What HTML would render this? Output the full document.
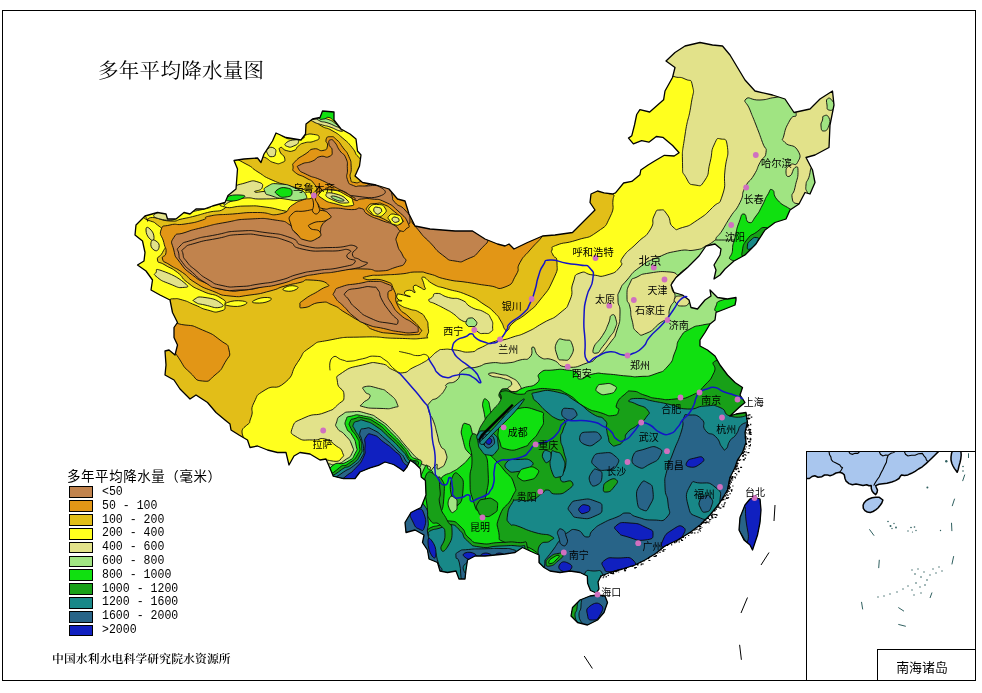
<!DOCTYPE html>
<html lang="zh"><head><meta charset="utf-8"><title>多年平均降水量图</title>
<style>
html,body{margin:0;padding:0;background:#fff}
body{width:982px;height:693px;position:relative;overflow:hidden;font-family:"Liberation Sans","Noto Sans CJK SC",sans-serif}
.frame{position:absolute;left:2px;top:10px;width:974px;height:671px;border:1px solid #000;box-sizing:border-box}
.inset{position:absolute;left:806px;top:451px;width:170px;height:230px;border:1px solid #000;box-sizing:border-box;overflow:hidden}
.inlab{position:absolute;left:877px;top:649px;width:99px;height:32px;border:1px solid #000;box-sizing:border-box;background:#fff;font-size:12.9px;line-height:36.5px;text-align:center;padding-right:9px;letter-spacing:0px}
.title{position:absolute;left:98px;top:57.5px;letter-spacing:0.3px;font-family:"Liberation Serif","Noto Serif CJK SC",serif;font-size:20.5px;line-height:26px;white-space:nowrap;color:#000}
.lgt{position:absolute;left:67px;top:468.6px;font-size:13.5px;letter-spacing:0.55px;line-height:16px;white-space:nowrap;color:#000}
.sw{position:absolute;left:69px;width:24px;height:11.8px;border:1.2px solid #000;box-sizing:border-box}
.ll{position:absolute;left:102px;font-family:"Liberation Mono","Noto Sans CJK SC",monospace;font-size:12.8px;line-height:14px;white-space:pre;color:#000;transform:scaleX(0.9025);transform-origin:0 0}
.foot{position:absolute;left:52px;top:651px;font-family:"Liberation Serif","Noto Serif CJK SC",serif;font-size:11.8px;letter-spacing:0.12px;line-height:16px;white-space:nowrap;color:#000;font-weight:600}
.ct{font-family:"Liberation Sans","Noto Sans CJK SC",sans-serif;fill:#000}
</style></head><body>
<div class="frame"></div>
<svg width="982" height="693" viewBox="0 0 982 693" style="position:absolute;left:0;top:0">
<defs><clipPath id="cn"><path d="M136.0 225.0 L145.0 216.0 L157.5 212.5 L166.0 214.0 L167.5 219.0 L176.0 219.0 L184.0 212.5 L190.0 214.0 L196.0 209.0 L204.0 209.0 L212.5 206.0 L225.0 202.5 L228.0 195.5 L236.0 189.0 L237.5 169.0 L234.0 160.5 L244.0 159.0 L257.5 158.0 L261.0 162.5 L264.0 154.0 L272.5 141.0 L276.0 133.0 L286.0 137.5 L301.0 140.0 L305.5 134.0 L306.0 124.0 L312.5 119.0 L320.0 117.5 L322.5 111.0 L334.0 112.0 L334.0 120.0 L341.0 129.0 L350.0 134.0 L356.0 139.0 L357.5 151.0 L361.0 155.0 L359.5 166.0 L355.0 176.0 L362.5 182.5 L376.0 185.0 L389.0 189.0 L397.5 199.0 L405.0 201.0 L409.0 214.0 L415.0 226.0 L430.0 229.0 L455.0 231.0 L472.5 231.0 L485.0 239.0 L497.5 244.0 L505.0 246.0 L509.0 244.0 L514.0 249.0 L527.5 242.5 L542.5 236.0 L555.0 235.0 L572.5 232.5 L579.0 226.0 L587.5 217.5 L595.0 210.0 L590.0 202.5 L591.0 194.0 L597.5 191.0 L604.0 192.8 L612.5 194.0 L615.5 192.8 L623.6 183.0 L631.8 181.4 L639.9 174.8 L640.8 170.0 L648.1 165.0 L654.6 161.0 L664.4 155.3 L674.2 156.0 L679.1 152.8 L672.6 145.5 L662.8 137.3 L656.3 136.5 L648.9 142.2 L641.6 140.6 L633.4 143.8 L628.5 138.1 L631.8 135.7 L634.5 125.0 L636.7 114.5 L639.9 109.6 L649.7 112.0 L657.9 104.7 L663.6 99.8 L665.0 91.0 L672.5 77.5 L675.0 67.5 L666.0 61.0 L675.0 52.5 L685.0 46.0 L700.0 42.5 L712.5 45.0 L722.5 46.0 L730.0 55.0 L737.5 67.5 L745.0 80.0 L755.0 91.0 L772.5 95.0 L785.0 99.0 L794.0 112.5 L810.0 109.0 L820.0 99.0 L832.5 91.0 L834.0 105.0 L830.0 125.0 L829.0 147.5 L815.0 155.0 L806.0 157.5 L812.5 170.0 L815.0 182.5 L810.0 194.0 L805.0 192.5 L799.0 204.0 L790.0 210.0 L786.0 219.0 L775.0 222.5 L765.0 230.0 L756.0 244.0 L745.0 255.0 L734.0 261.0 L725.0 269.0 L720.0 275.0 L714.0 279.0 L716.0 270.0 L714.0 265.0 L720.0 255.0 L721.0 249.0 L715.0 244.0 L706.0 246.0 L699.0 256.0 L687.5 267.5 L676.0 277.5 L671.0 285.0 L674.0 292.5 L682.5 295.0 L689.0 300.0 L691.0 307.5 L697.5 309.0 L705.0 300.0 L711.0 296.0 L710.0 290.0 L717.5 297.5 L727.5 299.0 L736.0 297.5 L736.0 300.0 L735.0 305.0 L725.0 309.0 L716.0 312.5 L715.0 320.0 L710.0 324.0 L705.0 332.5 L700.0 340.0 L700.0 346.0 L707.5 350.0 L715.0 356.0 L720.0 365.0 L727.5 375.0 L735.0 382.5 L742.5 387.5 L740.0 395.0 L745.0 402.5 L739.0 407.5 L730.0 416.0 L736.0 414.0 L746.0 412.5 L747.5 422.5 L745.0 432.5 L746.0 442.5 L742.5 452.5 L737.5 460.0 L735.0 467.5 L730.0 477.5 L727.5 490.0 L720.0 502.5 L710.0 515.0 L700.0 525.0 L690.0 532.5 L677.5 540.0 L665.0 546.0 L655.0 554.0 L645.0 560.0 L635.0 565.0 L622.5 569.0 L610.0 572.5 L601.0 576.0 L598.0 582.0 L599.0 589.0 L596.3 593.0 L590.5 590.5 L587.6 583.3 L587.3 576.0 L580.0 572.5 L570.0 571.0 L560.0 572.5 L550.0 571.0 L544.0 567.5 L539.0 562.5 L539.0 555.0 L530.0 551.0 L522.5 547.5 L515.0 552.5 L505.0 554.0 L495.0 555.0 L485.0 556.0 L475.0 556.0 L467.5 560.0 L466.0 570.0 L465.0 579.0 L459.0 579.0 L456.0 571.0 L447.5 572.5 L440.0 571.0 L437.5 562.5 L429.0 559.0 L427.5 550.0 L422.5 542.5 L424.0 535.0 L415.0 530.0 L406.0 532.5 L405.0 522.5 L411.0 512.5 L421.0 507.5 L426.0 495.0 L425.4 480.4 L421.2 477.0 L420.4 468.7 L415.3 463.7 L410.3 460.3 L407.0 467.0 L403.6 471.2 L400.3 468.7 L393.6 464.5 L385.0 462.0 L378.5 465.3 L370.0 467.9 L360.0 472.0 L355.0 478.7 L343.4 478.7 L333.3 476.2 L329.0 466.0 L326.0 459.0 L320.0 460.0 L310.0 454.0 L300.0 452.5 L294.0 456.0 L289.0 465.0 L286.0 452.5 L277.5 452.5 L267.5 450.0 L257.5 446.0 L250.0 447.5 L247.5 440.0 L239.0 435.0 L231.0 430.0 L230.0 424.0 L225.0 420.0 L216.0 412.5 L207.5 402.5 L196.0 395.0 L190.0 399.0 L180.0 389.0 L174.0 380.0 L165.0 375.0 L166.0 365.0 L165.0 351.0 L169.0 350.0 L175.0 355.0 L177.5 345.0 L174.0 337.5 L174.0 327.5 L177.5 322.5 L172.5 312.5 L170.0 300.0 L160.0 295.0 L151.0 290.0 L152.5 280.0 L146.0 271.0 L137.5 265.0 L144.0 261.0 L145.0 252.5 L142.5 241.0 L135.0 235.0Z M755.0 497.5 L760.0 499.0 L761.0 510.0 L760.0 522.5 L757.5 535.0 L752.5 550.0 L750.0 545.0 L744.0 540.0 L739.0 530.0 L740.0 517.5 L745.0 505.0 L750.0 499.0Z M597.5 595.0 L605.0 596.0 L607.5 602.5 L604.0 612.5 L597.5 620.0 L587.5 625.0 L577.5 622.5 L571.0 616.0 L572.5 607.5 L580.0 600.0 L590.0 596.0Z"/></clipPath></defs>
<g clip-path="url(#cn)" stroke="#0a0a0a" stroke-width="0.9" stroke-linejoin="round">
<rect x="100" y="20" width="760" height="640" fill="#FFFF1E" stroke="none"/>
<path d="M100.0 150.0 C100.0 150.0 420.0 100.0 420.0 100.0 C420.0 100.0 538.0 121.3 600.0 150.0 C662.0 178.7 601.7 171.3 606.0 186.0 C610.3 200.7 610.7 189.3 613.0 194.0 C615.3 198.7 614.0 192.3 613.0 200.0 C612.0 207.7 615.3 206.3 610.0 217.0 C604.7 227.7 608.0 224.3 597.0 232.0 C586.0 239.7 590.3 235.7 577.0 240.0 C563.7 244.3 565.3 241.7 557.0 245.0 C548.7 248.3 553.3 246.7 552.0 250.0 C550.7 253.3 551.3 250.7 553.0 255.0 C554.7 259.3 557.0 254.7 557.0 263.0 C557.0 271.3 558.7 267.7 553.0 280.0 C547.3 292.3 548.7 289.0 540.0 300.0 C531.3 311.0 536.0 305.3 527.0 313.0 C518.0 320.7 519.3 317.3 513.0 323.0 C506.7 328.7 510.7 327.8 508.0 330.0 C505.3 332.2 507.4 332.5 505.0 329.5 C502.6 326.5 504.3 326.6 500.8 321.0 C497.3 315.4 500.2 318.3 494.6 312.8 C489.0 307.3 493.1 310.3 484.0 304.4 C474.9 298.5 479.9 300.2 467.4 295.0 C454.9 289.8 457.6 292.2 446.4 288.7 C435.2 285.2 441.6 288.4 433.9 284.5 C426.2 280.6 426.5 277.1 423.2 277.1 C419.9 277.1 423.4 280.4 424.0 284.5 C424.6 288.6 426.5 288.6 424.9 289.4 C423.3 290.2 422.5 288.3 419.2 286.9 C415.9 285.5 416.9 284.8 415.0 285.3 C413.1 285.8 413.4 286.1 413.4 288.5 C413.4 290.9 416.3 292.0 415.0 292.6 C413.7 293.2 412.9 289.9 409.4 290.2 C405.9 290.5 404.2 291.2 404.5 293.4 C404.8 295.6 411.6 296.4 410.2 296.7 C408.8 297.0 404.8 294.9 400.4 294.3 C396.0 293.7 397.9 293.4 397.1 295.0 C396.3 296.6 396.4 297.3 398.0 299.2 C399.6 301.1 402.3 300.0 402.0 300.8 C401.7 301.6 397.4 300.0 397.1 301.6 C396.8 303.2 397.1 303.2 401.2 305.7 C405.3 308.2 403.4 306.8 409.4 309.0 C415.4 311.2 413.8 309.0 419.2 312.2 C424.6 315.4 422.7 313.8 425.7 318.7 C428.7 323.6 427.6 321.5 428.1 326.9 C428.6 332.3 429.2 331.2 427.3 335.0 C425.4 338.8 432.7 337.2 422.4 338.3 C412.1 339.4 416.1 338.7 396.3 338.3 C376.5 337.9 385.1 336.4 363.0 337.0 C340.9 337.6 347.7 336.5 330.0 340.0 C312.3 343.5 320.8 340.0 310.0 347.5 C299.2 355.0 305.8 350.8 297.5 362.5 C289.2 374.2 295.8 373.3 285.0 382.5 C274.2 391.7 275.3 383.3 265.0 390.0 C254.7 396.7 258.7 393.3 254.0 402.5 C249.3 411.7 254.3 409.2 251.0 417.5 C247.7 425.8 252.7 420.0 244.0 427.5 C235.3 435.0 259.7 449.2 225.0 440.0 C190.3 430.8 140.0 400.0 140.0 400.0 C140.0 400.0 100.0 300.0 100.0 300.0 C100.0 300.0 100.0 150.0 100.0 150.0Z" fill="#E2BE18"/>
<path d="M130.0 215.0 C137.5 201.7 138.3 216.7 147.5 220.0 C156.7 223.3 152.1 220.8 157.5 225.0 C162.9 229.2 160.8 226.7 163.8 232.5 C166.7 238.3 166.7 235.8 166.2 242.5 C165.8 249.2 165.4 246.7 162.5 252.5 C159.6 258.3 156.7 255.8 157.5 260.0 C158.3 264.2 158.3 260.8 165.0 265.0 C171.7 269.2 170.0 266.7 177.5 272.5 C185.0 278.3 179.2 276.2 187.5 282.5 C195.8 288.8 191.7 286.2 202.5 291.2 C213.3 296.2 212.5 292.9 220.0 297.5 C227.5 302.1 225.0 300.4 225.0 305.0 C225.0 309.6 225.8 309.6 220.0 311.2 C214.2 312.9 215.8 312.1 207.5 310.0 C199.2 307.9 203.3 308.3 195.0 305.0 C186.7 301.7 190.0 302.1 182.5 300.0 C175.0 297.9 178.3 298.8 172.5 298.8 C166.7 298.8 175.8 301.2 165.0 300.0 C154.2 298.8 153.3 308.3 140.0 295.0 C126.7 281.7 128.3 286.7 125.0 260.0 C121.7 233.3 122.5 228.3 130.0 215.0Z" fill="#FFFF1E"/>
<path d="M147.5 220.0 C148.3 224.2 145.0 217.2 152.5 217.5 C160.0 217.8 160.0 220.6 170.0 221.0 C180.0 221.4 174.2 220.4 182.5 218.8 C190.8 217.1 186.7 218.1 195.0 216.0 C203.3 213.9 197.5 215.2 207.5 212.5 C217.5 209.8 219.2 212.8 225.0 208.0 C230.8 203.2 236.7 199.7 225.0 198.0 C213.3 196.3 215.0 200.7 190.0 203.0 C165.0 205.3 164.2 199.3 150.0 205.0 C135.8 210.7 146.7 215.8 147.5 220.0Z" fill="#FFFF1E"/>
<path d="M230.0 158.0 C234.0 156.0 236.7 159.3 246.0 164.0 C255.3 168.7 249.3 166.7 258.0 172.0 C266.7 177.3 261.3 175.3 272.0 180.0 C282.7 184.7 279.0 182.7 290.0 186.0 C301.0 189.3 298.0 187.3 305.0 190.0 C312.0 192.7 308.7 189.7 311.0 194.0 C313.3 198.3 313.0 197.7 312.0 203.0 C311.0 208.3 312.7 206.7 308.0 210.0 C303.3 213.3 305.7 212.7 298.0 213.0 C290.3 213.3 296.0 213.0 285.0 211.0 C274.0 209.0 278.3 208.7 265.0 207.0 C251.7 205.3 258.3 206.0 245.0 206.0 C231.7 206.0 232.7 209.0 225.0 207.0 C217.3 205.0 219.7 206.0 222.0 200.0 C224.3 194.0 228.0 199.0 232.0 189.0 C236.0 179.0 234.7 180.3 234.0 170.0 C233.3 159.7 226.0 160.0 230.0 158.0Z" fill="#FFFF1E"/>
<path d="M275.5 130.0 C279.6 129.5 277.1 133.7 283.2 136.7 C289.3 139.7 287.3 138.5 293.9 139.0 C300.5 139.5 299.2 139.5 303.0 138.2 C306.8 136.9 301.7 136.5 305.3 135.2 C308.9 133.9 309.1 133.6 313.7 134.4 C318.3 135.2 319.1 135.2 319.1 137.5 C319.1 139.8 318.5 139.5 313.7 141.3 C308.9 143.1 309.7 141.3 304.6 142.8 C299.5 144.3 302.1 143.3 298.5 145.9 C294.9 148.5 298.0 149.0 293.9 150.5 C289.8 152.0 290.5 151.5 286.2 150.5 C281.9 149.5 282.9 146.9 280.9 147.4 C278.9 147.9 278.8 148.4 280.1 152.0 C281.4 155.6 284.2 154.5 284.7 158.1 C285.2 161.7 285.2 161.2 281.6 162.7 C278.0 164.2 279.1 164.2 274.0 162.7 C268.9 161.2 270.6 160.7 266.3 158.1 C262.0 155.5 261.1 159.1 261.0 155.0 C260.9 150.9 262.7 151.5 266.0 145.9 C269.3 140.3 267.8 143.5 271.0 138.2 C274.2 132.9 271.4 130.5 275.5 130.0Z" fill="#FFFF1E"/>
<path d="M306.0 119.0 C303.9 121.6 308.6 117.6 313.7 119.9 C318.8 122.2 315.3 122.4 321.4 126.0 C327.5 129.6 325.0 126.5 332.1 130.6 C339.2 134.7 336.2 132.6 342.8 138.2 C349.4 143.8 346.9 141.3 352.0 147.4 C357.1 153.5 354.1 153.1 358.1 156.6 C362.1 160.1 362.7 163.5 364.0 158.0 C365.3 152.5 368.3 151.0 362.0 140.0 C355.7 129.0 359.0 134.3 345.0 125.0 C331.0 115.7 333.0 114.0 320.0 112.0 C307.0 110.0 308.1 116.4 306.0 119.0Z" fill="#FFFF1E"/>
<path d="M227.5 302.5 C231.7 300.8 237.0 300.2 242.5 301.0 C248.0 301.8 248.2 303.3 244.0 305.0 C239.8 306.7 235.5 306.8 230.0 306.0 C224.5 305.2 223.3 304.2 227.5 302.5Z" fill="#FFFF1E"/>
<path d="M255.0 300.0 C258.8 298.2 262.8 297.2 267.5 297.5 C272.2 297.8 272.8 299.2 269.0 301.0 C265.2 302.8 260.7 303.3 256.0 303.0 C251.3 302.7 251.2 301.8 255.0 300.0Z" fill="#FFFF1E"/>
<path d="M285.0 287.5 C288.0 285.8 291.3 285.3 295.0 286.0 C298.7 286.7 299.0 287.8 296.0 289.5 C293.0 291.2 289.7 291.7 286.0 291.0 C282.3 290.3 282.0 289.2 285.0 287.5Z" fill="#FFFF1E"/>
<path d="M161.0 230.0 C163.1 224.2 162.0 227.0 170.0 225.0 C178.0 223.0 174.2 225.7 185.0 224.0 C195.8 222.3 194.2 222.7 202.5 220.0 C210.8 217.3 200.0 218.0 210.0 216.0 C220.0 214.0 216.7 215.2 232.5 214.0 C248.3 212.8 241.7 212.5 257.5 212.5 C273.3 212.5 268.3 216.5 280.0 214.0 C291.7 211.5 285.0 209.7 292.5 205.0 C300.0 200.3 295.8 202.5 302.5 200.0 C309.2 197.5 307.7 200.3 312.5 197.5 C317.3 194.7 316.4 196.4 316.8 191.7 C317.2 187.0 317.3 187.9 313.7 183.3 C310.1 178.7 312.2 181.6 306.1 178.0 C300.0 174.4 299.7 176.2 295.4 172.6 C291.1 169.0 293.1 171.1 293.1 167.3 C293.1 163.5 291.1 165.8 295.4 161.2 C299.7 156.6 300.0 157.6 306.1 153.5 C312.2 149.4 308.1 149.9 313.7 148.9 C319.3 147.9 318.3 151.5 322.9 150.5 C327.5 149.5 326.5 149.5 327.5 145.9 C328.5 142.3 325.0 142.9 326.0 139.8 C327.0 136.7 327.0 136.7 330.6 136.7 C334.2 136.7 332.6 136.2 336.7 139.8 C340.8 143.4 338.7 141.8 342.8 147.4 C346.9 153.0 346.1 150.0 348.9 156.6 C351.7 163.2 350.7 160.2 351.2 167.3 C351.7 174.4 349.1 172.9 350.4 178.0 C351.7 183.1 350.4 181.6 355.0 182.6 C359.6 183.6 357.2 181.5 364.2 181.0 C371.2 180.5 367.4 179.7 376.0 181.0 C384.6 182.3 382.3 180.3 390.0 185.0 C397.7 189.7 393.3 191.0 399.0 195.0 C404.7 199.0 402.7 190.7 407.0 197.0 C411.3 203.3 408.7 205.7 412.0 214.0 C415.3 222.3 411.0 218.7 417.0 222.0 C423.0 225.3 417.3 222.7 430.0 224.0 C442.7 225.3 440.8 225.3 455.0 226.0 C469.2 226.7 462.2 223.3 472.5 226.0 C482.8 228.7 477.7 229.3 486.0 234.0 C494.3 238.7 489.8 238.0 497.5 240.0 C505.2 242.0 503.5 238.3 509.0 240.0 C514.5 241.7 507.8 245.7 514.0 245.0 C520.2 244.3 518.0 242.3 527.5 238.0 C537.0 233.7 537.5 232.7 542.5 232.0 C547.5 231.3 546.7 230.0 542.5 236.0 C538.3 242.0 537.5 241.2 530.0 250.0 C522.5 258.8 524.7 254.2 520.0 262.5 C515.3 270.8 521.0 266.8 516.0 275.0 C511.0 283.2 514.2 283.5 505.0 287.0 C495.8 290.5 500.8 287.1 488.3 285.6 C475.8 284.1 481.4 284.5 467.4 282.4 C453.4 280.3 459.0 282.1 446.4 279.3 C433.8 276.5 439.4 276.4 429.7 274.0 C420.0 271.6 427.0 272.0 417.2 272.0 C407.4 272.0 411.6 273.0 400.4 274.0 C389.2 275.0 394.2 274.3 383.7 275.0 C373.2 275.7 374.9 274.6 369.0 276.0 C363.1 277.4 360.6 277.6 365.9 279.3 C371.2 281.0 375.6 277.4 385.0 281.0 C394.4 284.6 389.7 281.7 394.0 290.0 C398.3 298.3 393.0 297.0 398.0 306.0 C403.0 315.0 402.0 310.0 409.0 317.0 C416.0 324.0 415.2 321.8 419.0 327.0 C422.8 332.2 422.3 330.0 420.3 332.6 C418.3 335.2 421.8 334.3 413.0 334.7 C404.2 335.1 406.6 335.1 394.0 333.7 C381.4 332.3 385.0 333.7 375.3 330.5 C365.6 327.3 370.9 327.5 365.0 324.0 C359.1 320.5 364.2 323.8 357.5 320.0 C350.8 316.2 353.3 317.5 345.0 312.5 C336.7 307.5 340.8 308.3 332.5 305.0 C324.2 301.7 329.2 301.7 320.0 302.5 C310.8 303.3 311.7 306.7 305.0 307.5 C298.3 308.3 300.0 307.8 300.0 305.0 C300.0 302.2 298.3 304.0 305.0 299.0 C311.7 294.0 312.5 295.0 320.0 290.0 C327.5 285.0 330.8 287.3 327.5 284.0 C324.2 280.7 319.2 280.5 310.0 280.0 C300.8 279.5 308.3 280.5 300.0 282.5 C291.7 284.5 295.0 283.2 285.0 286.0 C275.0 288.8 281.7 288.0 270.0 291.0 C258.3 294.0 263.3 293.3 250.0 295.0 C236.7 296.7 242.5 297.3 230.0 296.0 C217.5 294.7 224.2 295.5 212.5 291.0 C200.8 286.5 205.0 288.7 195.0 282.5 C185.0 276.3 190.8 278.3 182.5 272.5 C174.2 266.7 176.7 269.5 170.0 265.0 C163.3 260.5 163.8 263.2 162.5 259.0 C161.2 254.8 165.6 258.0 166.0 252.5 C166.4 247.0 165.4 250.0 163.8 242.5 C162.1 235.0 158.9 235.8 161.0 230.0Z" fill="#E29616"/>
<path d="M172.0 327.0 C176.0 320.3 174.8 324.0 185.0 325.0 C195.2 326.0 190.8 325.0 202.5 330.0 C214.2 335.0 211.2 333.3 220.0 340.0 C228.8 346.7 227.3 342.5 229.0 350.0 C230.7 357.5 229.7 354.2 225.0 362.5 C220.3 370.8 222.5 368.8 215.0 375.0 C207.5 381.2 210.8 381.8 202.5 381.0 C194.2 380.2 197.5 379.5 190.0 372.5 C182.5 365.5 185.7 369.2 180.0 360.0 C174.3 350.8 175.7 356.0 173.0 345.0 C170.3 334.0 168.0 333.7 172.0 327.0Z" fill="#E29616"/>
<path d="M173.8 237.5 C177.5 231.7 175.4 235.8 185.0 232.5 C194.6 229.2 189.2 230.8 202.5 227.5 C215.8 224.2 209.2 225.3 225.0 222.5 C240.8 219.7 233.3 219.8 250.0 219.0 C266.7 218.2 261.7 218.0 275.0 220.0 C288.3 222.0 283.3 220.8 290.0 225.0 C296.7 229.2 290.0 228.3 295.0 232.5 C300.0 236.7 297.5 235.8 305.0 237.5 C312.5 239.2 312.5 239.2 317.5 237.5 C322.5 235.8 318.5 236.7 320.0 232.5 C321.5 228.3 319.5 229.5 322.0 225.0 C324.5 220.5 325.7 222.7 327.5 219.0 C329.3 215.3 329.3 217.7 327.5 214.0 C325.7 210.3 324.5 212.7 322.0 208.0 C319.5 203.3 317.3 203.7 320.0 200.0 C322.7 196.3 321.7 197.0 330.0 197.0 C338.3 197.0 336.7 199.2 345.0 200.0 C353.3 200.8 353.3 201.4 355.0 199.4 C356.7 197.4 350.0 197.1 350.0 194.0 C350.0 190.9 350.8 192.3 355.0 190.0 C359.2 187.7 355.7 189.5 362.7 187.2 C369.7 184.9 366.9 183.7 376.0 183.0 C385.1 182.3 384.7 181.0 390.0 185.0 C395.3 189.0 390.3 189.2 392.0 195.0 C393.7 200.8 390.7 197.5 395.0 202.5 C399.3 207.5 400.0 204.2 405.0 210.0 C410.0 215.8 410.0 214.2 410.0 220.0 C410.0 225.8 409.2 222.5 405.0 227.5 C400.8 232.5 400.0 229.2 397.5 235.0 C395.0 240.8 395.8 238.3 397.5 245.0 C399.2 251.7 400.0 249.2 402.5 255.0 C405.0 260.8 407.5 258.3 405.0 262.5 C402.5 266.7 403.3 264.7 395.0 267.5 C386.7 270.3 390.0 270.5 380.0 271.0 C370.0 271.5 378.3 269.3 365.0 269.0 C351.7 268.7 355.0 268.8 340.0 270.0 C325.0 271.2 333.3 270.5 320.0 272.5 C306.7 274.5 311.7 273.2 300.0 276.0 C288.3 278.8 296.7 277.7 285.0 281.0 C273.3 284.3 278.3 283.0 265.0 286.0 C251.7 289.0 258.3 288.7 245.0 290.0 C231.7 291.3 237.5 292.1 225.0 290.0 C212.5 287.9 218.3 288.8 207.5 283.8 C196.7 278.8 201.7 282.1 192.5 275.0 C183.3 267.9 186.2 270.8 180.0 262.5 C173.8 254.2 175.8 258.3 173.8 250.0 C171.7 241.7 170.0 243.3 173.8 237.5Z" fill="#C1834D"/>
<path d="M178.8 253.8 C177.9 248.2 175.4 250.6 180.0 246.0 C184.6 241.4 180.8 243.7 192.5 240.0 C204.2 236.3 199.2 238.0 215.0 235.0 C230.8 232.0 223.3 231.8 240.0 231.0 C256.7 230.2 248.3 230.3 265.0 232.5 C281.7 234.7 276.7 233.0 290.0 237.5 C303.3 242.0 290.8 242.7 305.0 246.0 C319.2 249.3 315.8 247.5 332.5 247.5 C349.2 247.5 348.3 243.5 355.0 246.0 C361.7 248.5 350.8 250.3 352.5 255.0 C354.2 259.7 355.8 256.7 360.0 260.0 C364.2 263.3 371.7 261.3 365.0 265.0 C358.3 268.7 355.8 268.0 340.0 271.0 C324.2 274.0 330.8 271.8 317.5 274.0 C304.2 276.2 312.5 274.2 300.0 277.5 C287.5 280.8 293.3 280.7 280.0 284.0 C266.7 287.3 273.3 285.5 260.0 287.5 C246.7 289.5 253.3 289.5 240.0 290.0 C226.7 290.5 231.7 291.5 220.0 289.0 C208.3 286.5 214.2 288.0 205.0 282.5 C195.8 277.0 200.0 279.2 192.5 272.5 C185.0 265.8 187.1 268.8 182.5 262.5 C177.9 256.2 179.6 259.2 178.8 253.8Z" fill="#C1834D"/>
<path d="M183.0 254.0 C182.2 249.3 180.2 251.7 184.5 248.0 C188.8 244.3 185.2 246.2 196.0 243.0 C206.8 239.8 202.3 241.3 217.0 238.5 C231.7 235.7 224.3 235.3 240.0 234.5 C255.7 233.7 248.3 233.8 264.0 236.0 C279.7 238.2 274.3 236.7 287.0 241.0 C299.7 245.3 287.7 245.7 302.0 249.0 C316.3 252.3 314.3 250.7 330.0 251.0 C345.7 251.3 343.3 248.0 349.0 250.0 C354.7 252.0 345.0 253.0 347.0 257.0 C349.0 261.0 357.3 258.5 355.0 262.0 C352.7 265.5 352.7 264.7 340.0 267.5 C327.3 270.3 330.7 268.3 317.0 270.5 C303.3 272.7 311.7 270.7 299.0 274.0 C286.3 277.3 292.3 277.2 279.0 280.5 C265.7 283.8 272.0 282.0 259.0 284.0 C246.0 286.0 252.3 286.0 240.0 286.5 C227.7 287.0 232.7 287.8 222.0 285.5 C211.3 283.2 216.7 284.5 208.0 279.5 C199.3 274.5 203.0 276.3 196.0 270.5 C189.0 264.7 191.3 267.5 187.0 262.0 C182.7 256.5 183.8 258.7 183.0 254.0Z" fill="#C1834D"/>
<path d="M298.5 168.8 C296.5 165.2 296.9 166.7 301.5 164.2 C306.1 161.7 306.1 163.7 312.2 161.2 C318.3 158.7 314.3 158.1 319.9 156.6 C325.5 155.1 324.9 158.6 329.0 156.6 C333.1 154.6 332.1 154.6 332.1 150.5 C332.1 146.4 329.5 147.9 329.0 144.3 C328.5 140.7 328.6 140.3 330.6 139.8 C332.6 139.3 332.1 139.2 335.1 142.8 C338.1 146.4 336.1 145.4 339.7 150.5 C343.3 155.6 343.3 152.0 345.9 158.1 C348.5 164.2 346.9 161.7 347.4 168.8 C347.9 175.9 345.4 173.9 347.4 179.5 C349.4 185.1 348.4 183.4 353.5 185.6 C358.6 187.8 353.9 185.5 362.7 186.0 C371.5 186.5 374.2 183.7 380.0 187.0 C385.8 190.3 388.3 193.0 380.0 196.0 C371.7 199.0 366.9 197.4 355.0 196.0 C343.1 194.6 351.9 195.2 344.3 191.7 C336.7 188.2 340.2 189.7 332.1 185.6 C324.0 181.5 328.1 183.1 319.9 179.5 C311.7 175.9 314.7 178.5 307.6 174.9 C300.5 171.3 300.5 172.4 298.5 168.8Z" fill="#C1834D"/>
<path d="M413.0 220.0 C416.3 217.7 416.0 222.7 430.0 225.0 C444.0 227.3 440.8 226.3 455.0 227.0 C469.2 227.7 461.8 224.0 472.5 227.0 C483.2 230.0 484.5 228.3 487.0 236.0 C489.5 243.7 486.5 242.3 480.0 250.0 C473.5 257.7 475.8 255.3 467.5 259.0 C459.2 262.7 463.3 262.3 455.0 261.0 C446.7 259.7 450.8 261.2 442.5 255.0 C434.2 248.8 437.5 250.2 430.0 242.5 C422.5 234.8 425.7 239.5 420.0 232.0 C414.3 224.5 409.7 222.3 413.0 220.0Z" fill="#C1834D"/>
<path d="M334.5 291.8 C336.6 288.0 333.8 289.4 341.8 286.6 C349.8 283.8 348.1 285.2 358.6 283.5 C369.1 281.8 364.1 281.4 373.2 281.4 C382.3 281.4 379.5 281.1 385.8 283.5 C392.1 285.9 391.3 285.2 392.0 288.7 C392.7 292.2 387.9 288.7 387.9 293.9 C387.9 299.1 387.8 297.4 392.0 304.4 C396.2 311.4 393.4 308.6 400.4 314.9 C407.4 321.2 407.1 318.3 413.0 323.2 C418.9 328.1 418.2 326.4 418.2 329.5 C418.2 332.6 419.6 331.9 413.0 332.6 C406.4 333.3 408.1 333.0 398.3 331.6 C388.5 330.2 394.2 330.9 383.7 328.5 C373.2 326.1 376.7 328.2 366.9 324.3 C357.1 320.4 362.1 322.8 354.4 316.9 C346.7 311.0 350.2 312.8 343.9 306.5 C337.6 300.2 338.7 303.0 335.6 298.1 C332.5 293.2 332.4 295.6 334.5 291.8Z" fill="#C1834D"/>
<path d="M346.0 292.0 C349.7 288.0 351.3 289.7 360.0 288.0 C368.7 286.3 366.0 286.3 372.0 287.0 C378.0 287.7 374.7 285.7 378.0 290.0 C381.3 294.3 378.0 292.7 382.0 300.0 C386.0 307.3 384.7 304.7 390.0 312.0 C395.3 319.3 398.7 318.3 398.0 322.0 C397.3 325.7 397.3 324.3 388.0 323.0 C378.7 321.7 380.3 322.7 370.0 318.0 C359.7 313.3 364.0 315.0 357.0 309.0 C350.0 303.0 352.7 305.7 349.0 300.0 C345.3 294.3 342.3 296.0 346.0 292.0Z" fill="#C1834D"/>
<path d="M292.0 214.0 C296.7 209.3 296.3 212.3 305.0 211.0 C313.7 209.7 310.0 209.0 318.0 210.0 C326.0 211.0 326.0 210.7 329.0 214.0 C332.0 217.3 332.3 217.0 327.0 220.0 C321.7 223.0 318.7 220.3 313.0 223.0 C307.3 225.7 307.7 225.0 310.0 228.0 C312.3 231.0 318.0 228.3 320.0 232.0 C322.0 235.7 321.0 236.3 316.0 239.0 C311.0 241.7 311.3 241.7 305.0 240.0 C298.7 238.3 301.7 239.0 297.0 234.0 C292.3 229.0 292.7 231.7 291.0 225.0 C289.3 218.3 287.3 218.7 292.0 214.0Z" fill="#E29616"/>
<path d="M312.0 195.0 C312.8 192.0 314.0 192.0 316.0 195.0 C318.0 198.0 317.0 198.3 318.0 204.0 C319.0 209.7 320.7 209.3 319.0 212.0 C317.3 214.7 314.8 214.7 313.0 212.0 C311.2 209.3 313.8 209.7 313.5 204.0 C313.2 198.3 311.2 198.0 312.0 195.0Z" fill="#E29616"/>
<path d="M316.0 196.0 C317.3 191.5 315.7 192.5 322.0 190.5 C328.3 188.5 326.7 189.0 335.0 190.0 C343.3 191.0 340.4 190.2 347.0 193.5 C353.6 196.8 350.0 198.2 354.8 200.0 C359.6 201.8 355.7 199.3 361.4 199.0 C367.1 198.7 364.1 198.0 372.0 199.0 C379.9 200.0 376.3 198.0 385.0 202.0 C393.7 206.0 390.3 204.0 398.0 211.0 C405.7 218.0 405.3 217.0 408.0 223.0 C410.7 229.0 408.5 226.4 406.0 229.0 C403.5 231.6 404.5 232.1 400.5 230.8 C396.5 229.5 400.5 228.6 394.0 225.1 C387.5 221.6 389.7 223.7 381.0 220.2 C372.3 216.7 374.4 218.4 367.9 214.5 C361.4 210.6 366.8 210.1 361.4 208.5 C356.0 206.9 360.3 209.8 351.6 209.6 C342.9 209.4 344.6 208.3 335.3 208.0 C326.0 207.7 329.6 210.1 323.8 208.8 C318.0 207.5 320.6 208.3 318.0 204.0 C315.4 199.7 314.7 200.5 316.0 196.0Z" fill="#E29616"/>
<path d="M367.9 206.3 C370.1 203.2 370.6 204.0 376.0 203.5 C381.4 203.0 378.5 202.4 384.2 204.7 C389.9 207.0 387.6 206.2 393.0 210.5 C398.4 214.8 397.5 213.7 400.5 217.7 C403.5 221.7 404.3 220.7 402.1 222.6 C399.9 224.5 401.0 225.0 394.0 223.4 C387.0 221.8 389.2 221.2 381.0 217.7 C372.8 214.2 373.9 216.6 369.5 212.8 C365.1 209.0 365.7 209.4 367.9 206.3Z" fill="#E2BE18"/>
<path d="M320.0 193.0 C322.7 190.0 322.3 189.3 331.0 190.0 C339.7 190.7 338.7 191.0 346.0 195.0 C353.3 199.0 352.0 198.3 353.0 202.0 C354.0 205.7 354.7 205.3 349.0 206.0 C343.3 206.7 344.7 206.3 336.0 204.0 C327.3 201.7 328.3 202.7 323.0 199.0 C317.7 195.3 317.3 196.0 320.0 193.0Z" fill="#FFFF1E"/>
<path d="M326.0 194.5 C326.7 192.3 329.0 192.2 336.0 194.0 C343.0 195.8 344.0 197.0 347.0 200.0 C350.0 203.0 349.3 202.8 345.0 203.0 C340.7 203.2 340.3 203.3 334.0 200.5 C327.7 197.7 325.3 196.7 326.0 194.5Z" fill="#E2E28A"/>
<path d="M332.0 196.0 C334.0 195.7 337.3 196.8 341.0 198.5 C344.7 200.2 345.0 200.7 343.0 201.0 C341.0 201.3 338.7 201.2 335.0 199.5 C331.3 197.8 330.0 196.3 332.0 196.0Z" fill="#A0E482"/>
<path d="M370.0 207.0 C372.3 204.5 373.0 204.2 378.0 204.5 C383.0 204.8 383.0 204.8 385.0 208.0 C387.0 211.2 386.7 211.3 384.0 214.0 C381.3 216.7 381.3 216.7 377.0 216.0 C372.7 215.3 373.3 215.0 371.0 212.0 C368.7 209.0 367.7 209.5 370.0 207.0Z" fill="#FFFF1E"/>
<path d="M374.0 208.5 C374.8 206.5 376.0 207.0 378.5 207.5 C381.0 208.0 381.0 208.2 381.5 210.0 C382.0 211.8 381.8 211.8 380.0 213.0 C378.2 214.2 378.0 215.0 376.0 213.5 C374.0 212.0 373.2 210.5 374.0 208.5Z" fill="#E2E28A"/>
<path d="M389.0 216.0 C391.0 213.8 391.7 213.5 396.0 214.5 C400.3 215.5 400.7 215.8 402.0 219.0 C403.3 222.2 402.7 222.2 400.0 224.0 C397.3 225.8 397.3 225.5 394.0 224.5 C390.7 223.5 391.7 223.8 390.0 221.0 C388.3 218.2 387.0 218.2 389.0 216.0Z" fill="#FFFF1E"/>
<path d="M392.5 218.0 C393.5 216.7 394.3 216.8 396.5 217.5 C398.7 218.2 398.8 218.5 399.0 220.0 C399.2 221.5 398.8 221.5 397.0 222.0 C395.2 222.5 395.0 222.8 393.5 221.5 C392.0 220.2 391.5 219.3 392.5 218.0Z" fill="#E2E28A"/>
<path d="M267.9 148.9 C269.9 146.9 271.5 146.7 274.0 148.2 C276.5 149.7 276.0 150.7 275.5 153.5 C275.0 156.3 275.0 156.3 272.5 156.6 C270.0 156.9 269.4 156.9 267.9 154.3 C266.4 151.7 265.9 150.9 267.9 148.9Z" fill="#E2E28A"/>
<path d="M286.2 142.8 C288.8 140.5 291.3 140.1 295.4 139.8 C299.5 139.5 299.0 140.0 298.5 142.0 C298.0 144.0 297.5 144.4 293.9 145.9 C290.3 147.4 290.3 147.6 287.7 146.6 C285.1 145.6 283.6 145.1 286.2 142.8Z" fill="#E2E28A"/>
<path d="M313.0 119.5 C316.7 119.0 317.7 118.7 325.0 120.5 C332.3 122.3 329.7 122.0 335.0 125.0 C340.3 128.0 339.3 127.5 341.0 129.5 C342.7 131.5 343.7 131.8 340.0 131.0 C336.3 130.2 335.8 129.0 330.0 127.0 C324.2 125.0 327.8 126.7 322.5 125.0 C317.2 123.3 317.2 123.8 314.0 122.0 C310.8 120.2 309.3 120.0 313.0 119.5Z" fill="#E2E28A"/>
<path d="M318.0 118.0 C320.3 117.3 321.0 117.0 327.0 119.0 C333.0 121.0 332.3 121.3 336.0 124.0 C339.7 126.7 340.7 127.3 338.0 127.0 C335.3 126.7 334.0 125.0 328.0 123.0 C322.0 121.0 323.3 122.7 320.0 121.0 C316.7 119.3 315.7 118.7 318.0 118.0Z" fill="#A0E482"/>
<path d="M320.0 112.0 C325.7 109.3 330.7 107.0 336.0 110.0 C341.3 113.0 338.3 118.5 336.0 121.0 C333.7 123.5 333.0 118.2 329.0 117.5 C325.0 116.8 327.3 118.8 324.0 119.0 C320.7 119.2 320.3 120.3 319.0 118.0 C317.7 115.7 314.3 114.7 320.0 112.0Z" fill="#10E010"/>
<path d="M232.0 190.0 C239.0 183.0 236.3 185.7 245.0 183.0 C253.7 180.3 252.3 180.3 258.0 182.0 C263.7 183.7 263.0 184.7 262.0 188.0 C261.0 191.3 252.3 190.7 255.0 192.0 C257.7 193.3 261.0 190.3 270.0 192.0 C279.0 193.7 284.7 194.7 282.0 197.0 C279.3 199.3 274.3 198.7 262.0 199.0 C249.7 199.3 255.0 197.3 245.0 198.0 C235.0 198.7 239.0 199.0 232.0 201.0 C225.0 203.0 224.0 207.7 224.0 204.0 C224.0 200.3 225.0 197.0 232.0 190.0Z" fill="#E2E28A"/>
<path d="M268.0 186.0 C273.0 183.3 271.0 183.3 280.0 184.0 C289.0 184.7 286.3 184.3 295.0 188.0 C303.7 191.7 304.3 191.0 306.0 195.0 C307.7 199.0 307.0 198.7 300.0 200.0 C293.0 201.3 294.3 200.3 285.0 199.0 C275.7 197.7 278.7 198.3 272.0 196.0 C265.3 193.7 266.3 195.3 265.0 192.0 C263.7 188.7 263.0 188.7 268.0 186.0Z" fill="#A0E482"/>
<path d="M277.0 190.0 C280.0 187.7 282.0 187.0 287.0 188.0 C292.0 189.0 292.3 190.0 292.0 193.0 C291.7 196.0 290.7 196.3 286.0 197.0 C281.3 197.7 281.0 197.3 278.0 195.0 C275.0 192.7 274.0 192.3 277.0 190.0Z" fill="#10E010"/>
<path d="M227.0 197.0 C230.3 195.0 234.7 194.7 240.0 195.0 C245.3 195.3 246.3 196.0 243.0 198.0 C239.7 200.0 235.3 201.3 230.0 201.0 C224.7 200.7 223.7 199.0 227.0 197.0Z" fill="#10E010"/>
<path d="M146.0 230.0 C146.0 226.7 147.3 226.5 150.0 229.0 C152.7 231.5 154.0 234.2 154.0 237.5 C154.0 240.8 152.7 241.5 150.0 239.0 C147.3 236.5 146.0 233.3 146.0 230.0Z" fill="#E2E28A"/>
<path d="M151.0 242.5 C151.7 239.5 153.3 239.3 156.0 241.0 C158.7 242.7 159.7 244.5 159.0 247.5 C158.3 250.5 156.7 251.7 154.0 250.0 C151.3 248.3 150.3 245.5 151.0 242.5Z" fill="#E2E28A"/>
<path d="M156.0 272.5 C157.7 270.3 153.2 267.7 162.5 271.0 C171.8 274.3 177.3 277.0 184.0 282.5 C190.7 288.0 187.2 287.0 182.5 287.5 C177.8 288.0 178.3 287.3 170.0 284.0 C161.7 280.7 162.2 281.3 157.5 277.5 C152.8 273.7 154.3 274.7 156.0 272.5Z" fill="#E2E28A"/>
<path d="M195.0 299.0 C198.0 297.3 196.7 296.3 205.0 297.5 C213.3 298.7 215.3 299.2 220.0 302.5 C224.7 305.8 224.0 306.7 219.0 307.5 C214.0 308.3 212.7 306.7 205.0 305.0 C197.3 303.3 199.3 304.5 196.0 302.5 C192.7 300.5 192.0 300.7 195.0 299.0Z" fill="#E2E28A"/>
<path d="M190.0 207.0 C195.7 204.7 197.7 204.3 205.0 204.0 C212.3 203.7 213.7 204.0 212.0 206.0 C210.3 208.0 208.0 208.3 200.0 210.0 C192.0 211.7 191.3 212.0 188.0 211.0 C184.7 210.0 184.3 209.3 190.0 207.0Z" fill="#E2E28A"/>
<path d="M155.0 214.0 C157.7 212.0 161.3 211.3 168.0 213.0 C174.7 214.7 177.7 217.0 175.0 219.0 C172.3 221.0 166.7 220.7 160.0 219.0 C153.3 217.3 152.3 216.0 155.0 214.0Z" fill="#E2E28A"/>
<path d="M672.5 76.0 C680.5 79.0 678.3 75.7 685.0 79.0 C691.7 82.3 690.5 77.3 692.5 86.0 C694.5 94.7 693.5 88.7 691.0 105.0 C688.5 121.3 687.8 115.8 685.0 135.0 C682.2 154.2 682.2 148.3 682.5 162.5 C682.8 176.7 681.8 170.0 686.0 177.5 C690.2 185.0 688.7 184.2 695.0 185.0 C701.3 185.8 700.0 187.5 705.0 180.0 C710.0 172.5 707.0 174.2 710.0 162.5 C713.0 150.8 710.3 152.8 714.0 145.0 C717.7 137.2 716.5 138.2 721.0 139.0 C725.5 139.8 726.2 137.2 727.5 147.5 C728.8 157.8 726.7 154.2 725.0 170.0 C723.3 185.8 726.7 182.5 722.5 195.0 C718.3 207.5 720.8 199.2 712.5 207.5 C704.2 215.8 707.5 213.3 697.5 220.0 C687.5 226.7 690.7 225.2 682.5 227.5 C674.3 229.8 678.0 231.2 673.0 227.0 C668.0 222.8 671.8 220.7 667.5 215.0 C663.2 209.3 664.5 209.7 660.0 210.0 C655.5 210.3 657.3 209.3 654.0 216.0 C650.7 222.7 655.7 221.0 650.0 230.0 C644.3 239.0 646.0 234.0 637.0 243.0 C628.0 252.0 628.7 249.0 623.0 257.0 C617.3 265.0 625.3 261.0 620.0 267.0 C614.7 273.0 616.0 272.3 607.0 275.0 C598.0 277.7 602.0 275.7 593.0 275.0 C584.0 274.3 586.7 270.3 580.0 273.0 C573.3 275.7 576.3 274.0 573.0 283.0 C569.7 292.0 574.3 290.0 570.0 300.0 C565.7 310.0 569.0 305.3 560.0 313.0 C551.0 320.7 554.0 316.7 543.0 323.0 C532.0 329.3 537.0 327.3 527.0 332.0 C517.0 336.7 521.0 334.3 513.0 337.0 C505.0 339.7 509.7 338.3 503.0 340.0 C496.3 341.7 500.7 339.3 493.0 342.0 C485.3 344.7 487.7 344.7 480.0 348.0 C472.3 351.3 478.3 351.3 470.0 352.0 C461.7 352.7 463.8 350.9 455.0 350.0 C446.2 349.1 449.4 348.9 443.5 349.4 C437.6 349.9 442.2 348.4 437.4 351.4 C432.6 354.4 434.0 354.8 429.2 358.5 C424.4 362.2 428.5 359.5 423.1 362.6 C417.7 365.7 419.7 364.3 412.9 367.7 C406.1 371.1 409.5 372.1 402.7 372.8 C395.9 373.5 400.1 372.8 392.6 369.7 C385.1 366.6 390.3 365.2 380.3 363.6 C370.3 362.0 375.1 362.0 362.5 365.0 C349.9 368.0 350.8 366.7 342.5 372.5 C334.2 378.3 337.0 375.0 337.5 382.5 C338.0 390.0 344.0 387.5 344.0 395.0 C344.0 402.5 343.8 399.2 337.5 405.0 C331.2 410.8 335.8 408.3 325.0 412.5 C314.2 416.7 315.8 412.5 305.0 417.5 C294.2 422.5 295.0 420.8 292.5 427.5 C290.0 434.2 290.8 433.3 297.5 437.5 C304.2 441.7 303.3 439.5 312.5 440.0 C321.7 440.5 317.5 437.3 325.0 439.0 C332.5 440.7 329.2 440.5 335.0 445.0 C340.8 449.5 340.8 447.5 342.5 452.5 C344.2 457.5 344.5 454.2 340.0 460.0 C335.5 465.8 309.0 450.0 329.0 470.0 C349.0 490.0 400.0 520.0 400.0 520.0 C400.0 520.0 400.0 640.0 400.0 640.0 C400.0 640.0 860.0 640.0 860.0 640.0 C860.0 640.0 860.0 20.0 860.0 20.0 C860.0 20.0 655.0 20.0 655.0 20.0 C655.0 20.0 661.0 70.0 661.0 70.0 C661.0 70.0 664.5 73.0 672.5 76.0Z" fill="#E2E28A"/>
<path d="M437.0 293.4 C442.4 293.4 440.3 295.3 448.5 297.5 C456.7 299.7 454.0 296.7 461.6 300.0 C469.2 303.3 463.8 303.2 471.4 307.3 C479.0 311.4 477.9 308.4 484.4 312.2 C490.9 316.0 488.2 313.8 490.9 318.7 C493.6 323.6 492.6 322.5 492.6 326.9 C492.6 331.3 493.6 329.6 490.9 331.8 C488.2 334.0 488.7 333.4 484.4 333.4 C480.1 333.4 481.7 334.5 477.9 331.8 C474.1 329.1 476.3 328.6 473.0 325.3 C469.7 322.0 471.9 323.6 468.1 322.0 C464.3 320.4 466.5 323.1 461.6 320.4 C456.7 317.7 458.8 317.6 453.4 313.8 C448.0 310.0 451.3 312.3 445.3 309.0 C439.3 305.7 440.9 306.7 435.5 304.0 C430.1 301.3 430.1 303.0 429.0 300.8 C427.9 298.6 429.5 300.0 432.2 297.5 C434.9 295.0 431.6 293.4 437.0 293.4Z" fill="#E2E28A"/>
<path d="M466.5 321.0 C467.5 318.7 467.2 318.3 470.0 318.0 C472.8 317.7 472.9 317.7 475.0 320.0 C477.1 322.3 477.5 322.8 476.2 325.0 C474.9 327.2 474.1 326.5 471.0 326.5 C467.9 326.5 468.5 326.8 467.0 325.0 C465.5 323.2 465.5 323.3 466.5 321.0Z" fill="#A0E482"/>
<path d="M746.0 99.0 C749.3 95.7 750.3 100.5 760.0 100.0 C769.7 99.5 766.0 98.5 775.0 97.5 C784.0 96.5 780.0 92.0 787.0 97.0 C794.0 102.0 795.0 104.8 796.0 112.5 C797.0 120.2 794.0 112.5 790.0 120.0 C786.0 127.5 785.7 127.5 784.0 135.0 C782.3 142.5 780.5 137.5 785.0 142.5 C789.5 147.5 793.3 143.3 797.5 150.0 C801.7 156.7 800.0 157.5 797.5 162.5 C795.0 167.5 793.8 161.8 790.0 165.0 C786.2 168.2 786.0 168.3 786.0 172.0 C786.0 175.7 787.0 177.5 790.0 176.0 C793.0 174.5 792.3 168.7 795.0 167.5 C797.7 166.3 798.0 165.8 798.0 172.5 C798.0 179.2 796.8 178.3 795.0 187.5 C793.2 196.7 790.8 190.8 792.5 200.0 C794.2 209.2 810.8 195.0 800.0 215.0 C789.2 235.0 782.0 244.3 760.0 260.0 C738.0 275.7 745.7 267.0 734.0 262.0 C722.3 257.0 731.0 252.0 725.0 245.0 C719.0 238.0 716.8 246.0 716.0 241.0 C715.2 236.0 717.8 237.8 722.5 230.0 C727.2 222.2 724.2 226.7 730.0 217.5 C735.8 208.3 735.0 212.5 740.0 202.5 C745.0 192.5 740.3 196.7 745.0 187.5 C749.7 178.3 749.0 183.3 754.0 175.0 C759.0 166.7 756.0 170.0 760.0 162.5 C764.0 155.0 765.2 159.2 766.0 152.5 C766.8 145.8 765.8 151.7 762.5 142.5 C759.2 133.3 760.2 135.8 756.0 125.0 C751.8 114.2 753.3 118.7 750.0 110.0 C746.7 101.3 742.7 102.3 746.0 99.0Z" fill="#A0E482"/>
<path d="M827.5 98.8 C829.3 97.4 830.3 98.1 832.5 101.0 C834.7 103.9 835.2 104.5 834.0 107.5 C832.8 110.5 831.1 110.8 828.8 110.0 C826.4 109.2 827.4 108.8 827.0 105.0 C826.6 101.2 825.7 100.1 827.5 98.8Z" fill="#A0E482"/>
<path d="M823.8 116.0 C825.8 115.2 827.1 114.2 828.8 117.5 C830.4 120.8 830.4 121.5 828.8 126.0 C827.1 130.5 826.3 131.0 823.8 131.0 C821.2 131.0 821.4 129.7 821.0 126.0 C820.6 122.3 821.6 123.3 822.5 120.0 C823.4 116.7 821.7 116.8 823.8 116.0Z" fill="#A0E482"/>
<path d="M812.5 168.0 C815.2 169.7 817.2 173.2 817.0 182.5 C816.8 191.8 815.2 192.7 812.0 196.0 C808.8 199.3 809.5 196.2 807.5 192.5 C805.5 188.8 805.6 190.0 806.0 185.0 C806.4 180.0 806.6 183.2 808.8 177.5 C810.9 171.8 809.8 166.3 812.5 168.0Z" fill="#A0E482"/>
<path d="M715.0 240.0 C715.0 240.0 712.7 242.7 706.0 246.0 C699.3 249.3 704.5 248.3 695.0 250.0 C685.5 251.7 690.0 248.5 677.5 251.0 C665.0 253.5 670.0 252.2 657.5 257.5 C645.0 262.8 650.2 259.5 640.0 267.0 C629.8 274.5 633.7 272.3 627.0 280.0 C620.3 287.7 623.0 283.3 620.0 290.0 C617.0 296.7 618.0 292.3 618.0 300.0 C618.0 307.7 620.3 303.0 620.0 313.0 C619.7 323.0 620.3 320.0 617.0 330.0 C613.7 340.0 616.7 334.0 610.0 343.0 C603.3 352.0 604.7 350.3 597.0 357.0 C589.3 363.7 597.0 359.7 587.0 363.0 C577.0 366.3 578.3 368.0 567.0 367.0 C555.7 366.0 562.0 363.3 553.0 360.0 C544.0 356.7 546.7 361.3 540.0 357.0 C533.3 352.7 536.3 347.0 533.0 347.0 C529.7 347.0 534.3 352.7 530.0 357.0 C525.7 361.3 527.7 358.0 520.0 360.0 C512.3 362.0 517.0 362.0 507.0 363.0 C497.0 364.0 500.0 361.7 490.0 363.0 C480.0 364.3 486.0 364.7 477.0 367.0 C468.0 369.3 469.7 365.7 463.0 370.0 C456.3 374.3 462.3 375.3 457.0 380.0 C451.7 384.7 450.8 381.2 447.0 384.0 C443.2 386.8 448.2 384.2 445.5 388.4 C442.8 392.6 443.8 392.2 438.8 396.7 C433.8 401.2 433.8 397.4 430.4 401.8 C427.0 406.2 427.6 403.3 428.7 410.0 C429.8 416.7 430.9 414.0 433.7 421.8 C436.5 429.6 434.8 425.7 437.0 433.5 C439.2 441.3 437.6 439.1 440.4 445.3 C443.2 451.5 443.8 446.4 445.5 452.0 C447.2 457.6 447.7 456.4 445.5 462.0 C443.3 467.6 444.0 465.4 438.8 468.7 C433.6 472.0 442.9 454.9 430.0 472.0 C417.1 489.1 400.0 520.0 400.0 520.0 C400.0 520.0 400.0 640.0 400.0 640.0 C400.0 640.0 860.0 640.0 860.0 640.0 C860.0 640.0 860.0 240.0 860.0 240.0 C860.0 240.0 715.0 240.0 715.0 240.0Z" fill="#A0E482"/>
<path d="M557.0 342.0 C559.7 337.0 560.0 339.3 565.0 340.0 C570.0 340.7 570.0 338.7 572.0 344.0 C574.0 349.3 574.0 350.7 571.0 356.0 C568.0 361.3 567.7 360.3 563.0 360.0 C558.3 359.7 559.0 361.0 557.0 355.0 C555.0 349.0 554.3 347.0 557.0 342.0Z" fill="#A0E482"/>
<path d="M491.0 373.0 C494.2 372.5 494.7 373.2 501.0 374.5 C507.3 375.8 504.0 373.8 510.0 377.0 C516.0 380.2 516.2 379.5 519.0 384.0 C521.8 388.5 522.2 388.7 518.5 390.5 C514.8 392.3 510.3 392.0 508.0 389.5 C505.7 387.0 513.1 386.7 511.6 383.0 C510.1 379.3 510.3 380.8 503.5 378.5 C496.7 376.2 495.5 377.8 491.3 376.0 C487.1 374.2 487.8 373.5 491.0 373.0Z" fill="#E2E28A"/>
<path d="M611.6 315.2 C614.2 313.7 614.9 315.2 616.0 319.7 C617.1 324.2 617.2 322.7 615.0 328.7 C612.8 334.7 613.4 331.6 609.3 337.6 C605.2 343.6 606.7 341.5 602.6 346.6 C598.5 351.7 600.0 352.5 597.0 353.0 C594.0 353.5 591.7 353.9 593.6 348.0 C595.5 342.1 597.7 343.3 602.6 335.4 C607.5 327.5 605.2 330.9 608.2 324.2 C611.2 317.5 609.0 316.7 611.6 315.2Z" fill="#A0E482"/>
<path d="M687.5 267.5 C688.8 266.7 685.8 273.5 680.0 275.0 C674.2 276.5 680.0 272.7 670.0 272.0 C660.0 271.3 661.0 271.3 650.0 273.0 C639.0 274.7 643.7 273.7 637.0 277.0 C630.3 280.3 633.3 276.3 630.0 283.0 C626.7 289.7 627.0 289.0 627.0 297.0 C627.0 305.0 628.3 299.3 630.0 307.0 C631.7 314.7 629.7 311.7 632.0 320.0 C634.3 328.3 632.0 327.7 637.0 332.0 C642.0 336.3 639.3 336.0 647.0 333.0 C654.7 330.0 653.2 328.0 660.0 323.0 C666.8 318.0 664.2 323.0 667.5 318.0 C670.8 313.0 667.5 314.8 670.0 308.0 C672.5 301.2 674.3 304.5 675.0 297.5 C675.7 290.5 671.7 293.7 672.0 287.0 C672.3 280.3 670.8 284.0 676.0 277.5 C681.2 271.0 686.2 268.3 687.5 267.5Z" fill="#E2E28A"/>
<path d="M365.0 386.7 C369.5 385.6 370.6 386.2 378.5 388.4 C386.4 390.6 382.4 388.4 388.6 393.4 C394.8 398.4 395.3 398.7 397.0 403.4 C398.7 408.1 399.3 405.9 393.6 407.6 C387.9 409.3 390.0 408.7 380.0 408.4 C370.0 408.1 369.3 408.5 363.5 406.8 C357.7 405.1 360.4 406.8 362.6 403.4 C364.8 400.0 369.2 400.6 370.0 396.7 C370.8 392.8 366.7 395.0 365.0 391.7 C363.3 388.4 360.5 387.8 365.0 386.7Z" fill="#A0E482"/>
<path d="M336.7 421.8 C338.1 417.3 336.7 418.3 341.7 415.0 C346.7 411.7 343.4 412.3 351.8 411.8 C360.2 411.3 357.4 410.8 366.8 413.5 C376.2 416.2 371.1 413.9 380.0 420.0 C388.9 426.1 385.3 423.6 393.6 431.9 C401.9 440.2 398.3 437.3 405.0 445.0 C411.7 452.7 408.7 449.3 413.7 455.0 C418.7 460.7 416.2 455.3 420.0 462.0 C423.8 468.7 438.3 462.3 425.0 475.0 C411.7 487.7 415.0 495.0 380.0 500.0 C345.0 505.0 338.3 500.7 320.0 490.0 C301.7 479.3 319.4 476.5 325.0 468.0 C330.6 459.5 330.0 467.2 336.7 464.5 C343.4 461.8 340.0 463.6 345.0 460.0 C350.0 456.4 349.5 458.6 351.8 453.6 C354.1 448.6 354.1 451.2 351.8 445.0 C349.5 438.8 349.8 440.5 345.0 435.0 C340.2 429.5 340.3 432.9 337.5 428.5 C334.7 424.1 335.3 426.3 336.7 421.8Z" fill="#A0E482"/>
<path d="M712.0 324.0 C712.0 324.0 709.8 323.3 702.5 325.0 C695.2 326.7 697.5 324.7 690.0 329.0 C682.5 333.3 685.0 330.3 680.0 338.0 C675.0 345.7 679.0 342.7 675.0 352.0 C671.0 361.3 674.7 358.7 668.0 366.0 C661.3 373.3 664.3 370.5 655.0 374.0 C645.7 377.5 649.3 375.8 640.0 376.5 C630.7 377.2 638.0 376.8 627.0 376.0 C616.0 375.2 618.3 374.7 607.0 374.0 C595.7 373.3 602.0 372.3 593.0 374.0 C584.0 375.7 585.3 379.3 580.0 379.0 C574.7 378.7 581.3 376.0 577.0 373.0 C572.7 370.0 575.0 371.0 567.0 370.0 C559.0 369.0 562.0 369.0 553.0 370.0 C544.0 371.0 545.3 368.7 540.0 373.0 C534.7 377.3 542.7 378.0 537.0 383.0 C531.3 388.0 530.7 385.0 523.0 388.0 C515.3 391.0 519.7 391.7 514.0 392.0 C508.3 392.3 510.7 389.0 506.0 389.0 C501.3 389.0 501.7 388.7 500.0 392.0 C498.3 395.3 498.3 395.7 501.0 399.0 C503.7 402.3 503.7 400.5 508.0 402.0 C512.3 403.5 516.7 398.5 514.0 403.5 C511.3 408.5 508.7 408.5 500.0 417.0 C491.3 425.5 495.0 421.7 488.0 429.0 C481.0 436.3 483.3 432.3 479.0 439.0 C474.7 445.7 478.3 442.7 475.0 449.0 C471.7 455.3 473.7 452.3 469.0 458.0 C464.3 463.7 466.7 461.3 461.0 466.0 C455.3 470.7 457.3 469.0 452.0 472.0 C446.7 475.0 450.3 472.3 445.0 475.0 C439.7 477.7 441.0 481.7 436.0 480.0 C431.0 478.3 435.3 470.7 430.0 470.0 C424.7 469.3 430.0 454.7 420.0 478.0 C410.0 501.3 400.0 540.0 400.0 540.0 C400.0 540.0 400.0 640.0 400.0 640.0 C400.0 640.0 860.0 640.0 860.0 640.0 C860.0 640.0 860.0 320.0 860.0 320.0 C860.0 320.0 712.0 324.0 712.0 324.0Z" fill="#10E010"/>
<path d="M346.0 420.0 C347.7 415.8 346.0 417.3 351.8 416.0 C357.6 414.7 354.6 414.1 363.5 416.0 C372.4 417.9 369.0 416.0 378.5 421.8 C388.0 427.6 383.6 425.4 392.0 433.5 C400.4 441.6 397.5 438.8 403.6 446.0 C409.7 453.2 405.5 447.0 410.3 455.0 C415.1 463.0 428.1 455.0 418.0 470.0 C407.9 485.0 412.7 493.3 380.0 500.0 C347.3 506.7 336.7 500.7 320.0 490.0 C303.3 479.3 321.1 477.3 330.0 468.0 C338.9 458.7 338.4 466.8 346.7 462.0 C355.0 457.2 351.9 459.3 355.0 453.6 C358.1 447.9 357.1 451.2 356.0 445.0 C354.9 438.8 354.9 440.5 351.8 435.0 C348.7 429.5 348.6 433.5 346.7 428.5 C344.8 423.5 344.3 424.2 346.0 420.0Z" fill="#10E010"/>
<path d="M772.5 190.0 C775.8 191.7 771.7 193.7 777.5 200.0 C783.3 206.3 782.5 204.0 790.0 209.0 C797.5 214.0 810.0 198.0 800.0 215.0 C790.0 232.0 782.0 244.7 760.0 260.0 C738.0 275.3 743.2 264.3 734.0 261.0 C724.8 257.7 732.2 257.8 732.5 250.0 C732.8 242.2 732.8 246.7 735.0 237.5 C737.2 228.3 736.0 230.3 739.0 222.5 C742.0 214.7 740.7 214.0 744.0 214.0 C747.3 214.0 745.0 221.8 749.0 222.5 C753.0 223.2 751.5 221.8 756.0 216.0 C760.5 210.2 758.7 212.0 762.5 205.0 C766.3 198.0 764.2 200.0 767.5 195.0 C770.8 190.0 769.2 188.3 772.5 190.0Z" fill="#10E010"/>
<path d="M597.0 387.0 C598.7 384.0 598.7 384.7 604.0 384.0 C609.3 383.3 609.2 383.0 613.0 385.0 C616.8 387.0 617.2 387.0 615.5 390.0 C613.8 393.0 613.5 393.0 608.0 394.0 C602.5 395.0 602.7 395.3 599.0 393.0 C595.3 390.7 595.3 390.0 597.0 387.0Z" fill="#A0E482"/>
<path d="M501.0 392.0 C502.3 389.0 502.0 389.3 505.0 389.0 C508.0 388.7 508.0 388.3 510.0 391.0 C512.0 393.7 512.3 393.7 511.0 397.0 C509.7 400.3 509.3 400.7 506.0 401.0 C502.7 401.3 502.7 401.0 501.0 398.0 C499.3 395.0 499.7 395.0 501.0 392.0Z" fill="#18A018"/>
<path d="M483.0 402.0 C484.0 398.0 484.7 398.0 487.0 400.0 C489.3 402.0 488.7 401.3 490.0 408.0 C491.3 414.7 492.0 415.3 491.0 420.0 C490.0 424.7 489.3 424.7 487.0 422.0 C484.7 419.3 485.3 418.7 484.0 412.0 C482.7 405.3 482.0 406.0 483.0 402.0Z" fill="#10E010"/>
<path d="M462.0 428.0 C463.3 422.7 463.7 422.7 467.0 424.0 C470.3 425.3 470.0 423.3 472.0 432.0 C474.0 440.7 474.3 443.3 473.0 450.0 C471.7 456.7 471.3 455.3 468.0 452.0 C464.7 448.7 465.0 448.0 463.0 440.0 C461.0 432.0 460.7 433.3 462.0 428.0Z" fill="#10E010"/>
<path d="M675.0 298.0 C676.3 295.7 675.7 296.3 680.0 296.0 C684.3 295.7 685.0 294.7 688.0 297.0 C691.0 299.3 691.0 300.0 689.0 303.0 C687.0 306.0 686.3 306.0 682.0 306.0 C677.7 306.0 678.3 305.7 676.0 303.0 C673.7 300.3 673.7 300.3 675.0 298.0Z" fill="#E2E28A"/>
<path d="M716.0 306.0 C717.8 302.0 715.2 302.3 722.5 300.0 C729.8 297.7 733.5 296.5 738.0 299.0 C742.5 301.5 740.3 303.5 736.0 307.5 C731.7 311.5 731.3 309.5 725.0 311.0 C718.7 312.5 720.0 313.7 717.0 312.0 C714.0 310.3 714.2 310.0 716.0 306.0Z" fill="#10E010"/>
<path d="M745.0 360.0 C745.0 360.0 727.8 355.8 717.5 360.0 C707.2 364.2 718.2 364.2 714.0 372.5 C709.8 380.8 712.2 377.5 705.0 385.0 C697.8 392.5 702.5 390.3 692.5 395.0 C682.5 399.7 686.7 397.8 675.0 399.0 C663.3 400.2 667.5 399.7 657.5 398.5 C647.5 397.3 653.2 397.7 645.0 395.3 C636.8 392.9 639.6 391.5 632.9 391.2 C626.2 390.9 630.2 389.9 624.8 394.3 C619.4 398.7 618.6 399.0 616.6 404.4 C614.6 409.8 620.0 406.8 618.7 410.5 C617.4 414.2 618.7 414.9 612.6 415.6 C606.5 416.3 609.8 415.6 600.3 412.6 C590.8 409.6 594.8 412.6 584.0 406.5 C573.2 400.4 578.6 400.1 567.8 394.3 C557.0 388.5 563.8 390.6 551.5 389.2 C539.2 387.8 541.2 388.5 531.0 390.2 C520.8 391.9 530.4 394.0 520.9 394.3 C511.4 394.6 509.4 389.2 502.6 391.2 C495.8 393.2 503.9 394.0 500.5 400.4 C497.1 406.8 497.8 403.7 492.4 410.5 C487.0 417.3 489.1 413.2 484.3 420.7 C479.5 428.2 480.5 426.2 478.1 433.0 C475.7 439.8 475.7 435.7 477.1 441.1 C478.5 446.5 477.9 444.6 482.2 449.2 C486.5 453.8 485.1 450.7 490.0 455.0 C494.9 459.3 492.3 457.0 497.0 462.0 C501.7 467.0 498.3 462.7 504.0 470.0 C509.7 477.3 511.3 474.8 514.0 484.0 C516.7 493.2 516.7 487.2 512.0 497.5 C507.3 507.8 504.4 503.3 500.0 515.0 C495.6 526.7 497.1 523.3 498.8 532.5 C500.4 541.7 496.2 538.0 505.0 542.5 C513.8 547.0 513.7 541.8 525.0 546.0 C536.3 550.2 539.0 555.0 539.0 555.0 C539.0 555.0 540.0 640.0 540.0 640.0 C540.0 640.0 860.0 640.0 860.0 640.0 C860.0 640.0 860.0 360.0 860.0 360.0 C860.0 360.0 745.0 360.0 745.0 360.0Z" fill="#18A018"/>
<path d="M350.0 421.8 C351.3 418.5 350.5 419.8 355.0 418.5 C359.5 417.2 356.2 416.3 363.5 418.0 C370.8 419.7 368.2 417.8 377.0 423.5 C385.8 429.2 381.7 427.2 390.0 435.0 C398.3 442.8 395.8 439.7 402.0 447.0 C408.2 454.3 404.3 449.3 408.6 457.0 C412.9 464.7 424.5 455.7 415.0 470.0 C405.5 484.3 411.7 493.3 380.0 500.0 C348.3 506.7 334.4 500.0 320.0 490.0 C305.6 480.0 327.2 478.8 336.7 470.0 C346.2 461.2 341.4 468.9 348.4 463.7 C355.4 458.5 354.0 460.7 357.6 454.5 C361.2 448.3 359.6 450.8 359.3 445.0 C359.0 439.2 359.6 442.5 356.8 437.0 C354.0 431.5 353.3 433.6 351.0 428.5 C348.7 423.4 348.7 425.1 350.0 421.8Z" fill="#18A018"/>
<path d="M764.0 227.5 C767.3 227.5 768.7 227.0 766.0 232.5 C763.3 238.0 763.0 236.5 756.0 244.0 C749.0 251.5 749.5 253.0 745.0 255.0 C740.5 257.0 741.7 255.3 742.5 250.0 C743.3 244.7 743.0 244.8 747.5 239.0 C752.0 233.2 750.5 236.3 756.0 232.5 C761.5 228.7 760.7 227.5 764.0 227.5Z" fill="#18A018"/>
<path d="M500.5 420.7 C505.9 414.2 502.6 412.9 514.8 409.5 C527.0 406.1 527.7 407.4 537.2 410.5 C546.7 413.6 542.6 411.9 543.3 418.7 C544.0 425.5 543.3 423.5 539.2 430.9 C535.1 438.3 536.4 435.6 531.0 441.0 C525.6 446.4 531.1 444.5 523.0 447.2 C514.9 449.9 514.5 451.3 506.7 449.2 C498.9 447.1 502.2 447.8 499.5 441.0 C496.8 434.2 498.2 435.7 498.5 428.9 C498.8 422.1 495.1 427.2 500.5 420.7Z" fill="#10E010"/>
<path d="M470.0 440.0 C472.0 432.0 473.3 432.7 478.0 436.0 C482.7 439.3 480.7 438.7 484.0 450.0 C487.3 461.3 487.3 455.0 488.0 470.0 C488.7 485.0 488.7 481.7 486.0 495.0 C483.3 508.3 484.3 508.3 480.0 510.0 C475.7 511.7 476.3 510.0 473.0 500.0 C469.7 490.0 470.3 493.3 470.0 480.0 C469.7 466.7 472.0 473.3 472.0 460.0 C472.0 446.7 468.0 448.0 470.0 440.0Z" fill="#18A018"/>
<path d="M452.0 478.0 C454.7 470.7 456.3 472.0 460.0 476.0 C463.7 480.0 463.7 480.3 463.0 490.0 C462.3 499.7 461.7 502.3 458.0 505.0 C454.3 507.7 454.0 507.0 452.0 498.0 C450.0 489.0 449.3 485.3 452.0 478.0Z" fill="#18A018"/>
<path d="M436.0 482.0 C438.3 475.3 439.3 475.7 442.0 480.0 C444.7 484.3 444.7 484.3 444.0 495.0 C443.3 505.7 443.0 510.3 440.0 512.0 C437.0 513.7 436.3 510.0 435.0 500.0 C433.7 490.0 433.7 488.7 436.0 482.0Z" fill="#18A018"/>
<path d="M421.0 534.0 C431.7 533.3 423.7 531.0 430.0 528.0 C436.3 525.0 433.3 527.3 440.0 525.0 C446.7 522.7 443.0 520.3 450.0 521.0 C457.0 521.7 454.7 521.3 461.0 527.0 C467.3 532.7 462.3 532.5 469.0 538.0 C475.7 543.5 470.7 542.0 481.0 543.5 C491.3 545.0 487.8 542.8 500.0 542.5 C512.2 542.2 508.5 541.3 517.5 542.5 C526.5 543.7 526.2 538.5 527.0 546.0 C527.8 553.5 539.0 548.7 520.0 565.0 C501.0 581.3 503.3 591.7 470.0 595.0 C436.7 598.3 444.0 596.7 420.0 575.0 C396.0 553.3 397.7 543.7 398.0 530.0 C398.3 516.3 410.3 534.7 421.0 534.0Z" fill="#18A018"/>
<path d="M745.0 416.0 C745.0 416.0 738.3 418.8 730.0 416.0 C721.7 413.2 728.3 410.8 720.0 407.5 C711.7 404.2 715.8 405.5 705.0 406.0 C694.2 406.5 699.2 409.5 687.5 409.0 C675.8 408.5 681.7 407.2 670.0 404.5 C658.3 401.8 662.5 403.0 652.5 401.0 C642.5 399.0 647.8 398.7 640.0 398.5 C632.2 398.3 630.3 398.7 629.0 400.5 C627.7 402.3 629.8 400.8 636.0 404.0 C642.2 407.2 644.2 405.5 647.5 410.0 C650.8 414.5 649.3 412.5 646.0 417.5 C642.7 422.5 643.7 420.0 637.5 425.0 C631.3 430.0 632.0 427.5 627.5 432.5 C623.0 437.5 627.3 435.8 624.0 440.0 C620.7 444.2 621.8 443.7 617.5 445.0 C613.2 446.3 614.2 447.0 611.0 444.0 C607.8 441.0 609.5 441.0 608.0 436.0 C606.5 431.0 607.7 434.3 606.5 428.9 C605.3 423.5 609.2 424.8 604.4 419.7 C599.6 414.6 601.7 419.7 592.2 413.6 C582.7 407.5 587.4 408.5 575.9 401.4 C564.4 394.3 570.5 395.3 557.6 392.2 C544.7 389.1 545.4 390.6 537.2 392.2 C529.0 393.8 532.4 393.1 533.0 397.0 C533.6 400.9 534.3 399.0 539.0 404.0 C543.7 409.0 541.0 407.0 547.0 412.0 C553.0 417.0 551.0 416.0 557.0 419.0 C563.0 422.0 563.0 417.3 565.0 421.0 C567.0 424.7 564.5 424.0 563.0 430.0 C561.5 436.0 560.4 431.9 560.6 439.0 C560.8 446.1 562.0 442.5 563.7 451.3 C565.4 460.1 566.7 456.0 565.7 465.5 C564.7 475.0 558.6 474.4 560.6 479.8 C562.6 485.2 569.4 478.4 571.8 481.8 C574.2 485.2 573.2 485.9 567.8 490.0 C562.4 494.1 562.3 494.0 555.5 494.0 C548.7 494.0 552.1 490.0 547.4 490.0 C542.7 490.0 546.8 490.7 541.3 494.0 C535.8 497.3 539.2 498.0 531.0 500.0 C522.8 502.0 523.0 499.2 516.8 500.0 C510.6 500.8 515.6 497.5 512.5 502.5 C509.4 507.5 508.3 507.9 507.5 515.0 C506.7 522.1 506.7 520.1 510.0 523.8 C513.3 527.4 509.2 523.1 517.5 526.0 C525.8 528.9 523.8 529.2 535.0 532.5 C546.2 535.8 546.0 533.2 551.0 536.0 C556.0 538.8 553.7 538.0 550.0 541.0 C546.3 544.0 543.7 540.0 540.0 545.0 C536.3 550.0 539.0 556.0 539.0 556.0 C539.0 556.0 540.0 640.0 540.0 640.0 C540.0 640.0 860.0 640.0 860.0 640.0 C860.0 640.0 860.0 416.0 860.0 416.0 C860.0 416.0 745.0 416.0 745.0 416.0Z" fill="#188888"/>
<path d="M353.4 424.3 C354.5 421.3 354.5 422.1 358.4 421.0 C362.3 419.9 358.8 419.0 365.0 421.0 C371.2 423.0 369.1 421.7 377.0 427.0 C384.9 432.3 380.8 429.8 388.6 437.0 C396.4 444.2 393.9 441.4 400.3 448.6 C406.7 455.8 403.9 451.5 407.8 458.6 C411.7 465.7 421.3 456.2 412.0 470.0 C402.7 483.8 410.7 493.3 380.0 500.0 C349.3 506.7 333.9 499.3 320.0 490.0 C306.1 480.7 327.8 480.5 338.4 472.0 C349.0 463.5 344.6 470.1 351.8 464.5 C359.0 458.9 356.7 461.1 360.0 455.3 C363.3 449.5 361.8 452.6 361.8 447.0 C361.8 441.4 362.3 444.3 360.0 438.6 C357.7 432.9 357.2 434.8 355.0 430.0 C352.8 425.2 352.3 427.3 353.4 424.3Z" fill="#188888"/>
<path d="M756.0 237.5 C758.2 237.8 759.5 237.2 757.5 241.0 C755.5 244.8 753.3 247.7 750.0 249.0 C746.7 250.3 747.2 248.0 747.5 245.0 C747.8 242.0 748.2 242.5 751.0 240.0 C753.8 237.5 753.8 237.2 756.0 237.5Z" fill="#188888"/>
<path d="M424.0 536.0 C434.0 536.3 424.7 533.7 430.0 531.0 C435.3 528.3 433.3 530.2 440.0 528.0 C446.7 525.8 443.3 523.7 450.0 524.5 C456.7 525.3 454.2 525.0 460.0 530.5 C465.8 536.0 460.8 535.5 467.5 541.0 C474.2 546.5 469.2 545.3 480.0 547.0 C490.8 548.7 487.5 546.3 500.0 546.0 C512.5 545.7 509.2 545.0 517.5 546.0 C525.8 547.0 524.2 542.7 525.0 549.0 C525.8 555.3 538.3 549.7 520.0 565.0 C501.7 580.3 503.3 591.7 470.0 595.0 C436.7 598.3 443.3 596.7 420.0 575.0 C396.7 553.3 398.7 543.0 400.0 530.0 C401.3 517.0 414.0 535.7 424.0 536.0Z" fill="#188888"/>
<path d="M551.0 455.0 C552.3 448.3 552.0 451.0 556.0 452.0 C560.0 453.0 560.3 452.0 563.0 458.0 C565.7 464.0 565.3 463.7 564.0 470.0 C562.7 476.3 563.0 476.3 559.0 477.0 C555.0 477.7 554.7 479.3 552.0 472.0 C549.3 464.7 549.7 461.7 551.0 455.0Z" fill="#188888"/>
<path d="M543.0 453.0 C544.3 450.0 545.3 450.0 548.0 451.0 C550.7 452.0 551.0 452.3 551.0 456.0 C551.0 459.7 550.3 460.7 548.0 462.0 C545.7 463.3 545.7 463.0 544.0 460.0 C542.3 457.0 541.7 456.0 543.0 453.0Z" fill="#188888"/>
<path d="M507.0 462.0 C510.3 458.5 510.0 459.8 518.0 459.5 C526.0 459.2 527.3 458.2 531.0 461.0 C534.7 463.8 533.3 464.5 529.0 468.0 C524.7 471.5 525.0 470.8 518.0 471.5 C511.0 472.2 511.7 473.2 508.0 470.0 C504.3 466.8 503.7 465.5 507.0 462.0Z" fill="#188888"/>
<path d="M478.0 434.0 C480.3 430.3 479.7 431.0 485.0 431.0 C490.3 431.0 489.7 430.0 494.0 434.0 C498.3 438.0 497.3 437.0 498.0 443.0 C498.7 449.0 499.3 448.0 496.0 452.0 C492.7 456.0 493.0 455.7 488.0 455.0 C483.0 454.3 484.3 454.3 481.0 450.0 C477.7 445.7 479.0 447.3 478.0 442.0 C477.0 436.7 475.7 437.7 478.0 434.0Z" fill="#188888"/>
<path d="M750.0 424.0 C750.0 424.0 746.7 420.9 742.0 424.4 C737.3 427.9 740.0 429.2 736.0 434.6 C732.0 440.0 733.3 435.9 730.0 440.7 C726.7 445.5 728.7 446.9 726.0 448.9 C723.3 450.9 725.2 450.9 721.8 446.8 C718.4 442.7 721.1 442.1 715.7 436.7 C710.3 431.3 710.2 436.4 705.5 430.5 C700.8 424.6 707.0 424.2 701.5 419.0 C696.0 413.8 695.0 415.2 689.0 415.0 C683.0 414.8 686.0 413.2 683.5 418.5 C681.0 423.8 685.0 419.5 681.5 431.0 C678.0 442.5 677.8 440.0 673.0 453.0 C668.2 466.0 669.7 458.7 667.0 470.0 C664.3 481.3 664.7 476.0 665.0 487.0 C665.3 498.0 667.3 493.0 668.0 503.0 C668.7 513.0 672.0 511.3 667.0 517.0 C662.0 522.7 663.0 520.0 653.0 520.0 C643.0 520.0 645.7 519.3 637.0 517.0 C628.3 514.7 633.7 513.0 627.0 513.0 C620.3 513.0 625.0 513.7 617.0 517.0 C609.0 520.3 611.0 518.7 603.0 523.0 C595.0 527.3 598.3 525.3 593.0 530.0 C587.7 534.7 592.3 537.0 587.0 537.0 C581.7 537.0 583.7 531.3 577.0 530.0 C570.3 528.7 572.7 529.7 567.0 533.0 C561.3 536.3 564.7 534.3 560.0 540.0 C555.3 545.7 558.0 543.3 553.0 550.0 C548.0 556.7 545.0 560.0 545.0 560.0 C545.0 560.0 540.0 640.0 540.0 640.0 C540.0 640.0 860.0 640.0 860.0 640.0 C860.0 640.0 860.0 420.0 860.0 420.0 C860.0 420.0 750.0 424.0 750.0 424.0Z" fill="#286488"/>
<path d="M360.0 432.0 C361.1 428.2 360.5 429.2 365.0 428.5 C369.5 427.8 366.8 426.6 373.5 430.0 C380.2 433.4 377.2 431.9 385.0 438.6 C392.8 445.3 390.2 442.9 397.0 450.0 C403.8 457.1 401.6 452.7 405.3 460.0 C409.0 467.3 416.4 458.7 408.0 472.0 C399.6 485.3 409.3 494.0 380.0 500.0 C350.7 506.0 333.3 498.5 320.0 490.0 C306.7 481.5 328.9 482.5 340.0 474.5 C351.1 466.5 346.1 471.8 353.4 466.0 C360.7 460.2 358.4 462.8 361.8 457.0 C365.2 451.2 363.5 454.3 363.5 448.6 C363.5 442.9 363.0 445.5 361.8 440.0 C360.6 434.5 358.9 435.8 360.0 432.0Z" fill="#286488"/>
<path d="M690.0 486.0 C694.0 478.7 691.7 482.7 700.0 483.0 C708.3 483.3 708.3 481.3 715.0 487.0 C721.7 492.7 721.0 490.7 720.0 500.0 C719.0 509.3 719.3 509.3 712.0 515.0 C704.7 520.7 706.0 520.3 698.0 517.0 C690.0 513.7 690.7 515.3 688.0 505.0 C685.3 494.7 686.0 493.3 690.0 486.0Z" fill="#188888"/>
<path d="M700.0 500.0 C701.5 496.0 701.3 496.7 705.0 496.0 C708.7 495.3 708.8 494.7 711.0 498.0 C713.2 501.3 713.2 501.3 711.5 506.0 C709.8 510.7 709.7 511.3 706.0 512.0 C702.3 512.7 702.5 512.0 700.5 508.0 C698.5 504.0 698.5 504.0 700.0 500.0Z" fill="#286488"/>
<path d="M580.0 436.0 C581.3 431.7 583.3 432.3 590.0 432.0 C596.7 431.7 597.7 431.7 600.0 435.0 C602.3 438.3 601.7 438.7 597.0 442.0 C592.3 445.3 591.7 447.0 586.0 445.0 C580.3 443.0 578.7 440.3 580.0 436.0Z" fill="#286488"/>
<path d="M593.0 458.0 C595.3 453.3 595.7 453.7 603.0 453.0 C610.3 452.3 610.3 452.0 615.0 456.0 C619.7 460.0 619.7 460.3 617.0 465.0 C614.3 469.7 614.0 469.3 607.0 470.0 C600.0 470.7 600.7 471.0 596.0 467.0 C591.3 463.0 590.7 462.7 593.0 458.0Z" fill="#286488"/>
<path d="M633.0 456.0 C635.3 450.0 636.7 451.7 645.0 449.0 C653.3 446.3 653.0 445.7 658.0 448.0 C663.0 450.3 662.7 450.7 660.0 456.0 C657.3 461.3 657.3 460.3 650.0 464.0 C642.7 467.7 643.7 469.7 638.0 467.0 C632.3 464.3 630.7 462.0 633.0 456.0Z" fill="#286488"/>
<path d="M640.0 485.0 C643.7 479.3 643.7 480.7 648.0 483.0 C652.3 485.3 652.3 484.7 653.0 492.0 C653.7 499.3 653.3 499.0 650.0 505.0 C646.7 511.0 647.3 511.7 643.0 510.0 C638.7 508.3 638.0 508.3 637.0 500.0 C636.0 491.7 636.3 490.7 640.0 485.0Z" fill="#286488"/>
<path d="M592.0 472.0 C594.7 468.0 594.7 468.7 598.0 470.0 C601.3 471.3 602.3 471.0 602.0 476.0 C601.7 481.0 601.0 483.0 597.0 485.0 C593.0 487.0 591.7 486.3 590.0 482.0 C588.3 477.7 589.3 476.0 592.0 472.0Z" fill="#286488"/>
<path d="M570.0 505.0 C573.0 500.7 571.7 501.3 580.0 500.0 C588.3 498.7 587.7 498.3 595.0 501.0 C602.3 503.7 602.0 503.0 602.0 508.0 C602.0 513.0 602.3 512.7 595.0 516.0 C587.7 519.3 588.0 519.0 580.0 518.0 C572.0 517.0 574.3 517.3 571.0 513.0 C567.7 508.7 567.0 509.3 570.0 505.0Z" fill="#286488"/>
<path d="M562.0 411.0 C563.0 407.5 564.3 408.2 569.0 408.5 C573.7 408.8 574.3 408.8 576.0 412.0 C577.7 415.2 577.3 415.7 574.0 418.0 C570.7 420.3 570.0 421.3 566.0 419.0 C562.0 416.7 561.0 414.5 562.0 411.0Z" fill="#286488"/>
<path d="M483.0 437.0 C484.3 433.5 485.3 434.8 489.0 435.5 C492.7 436.2 493.0 435.5 494.0 439.0 C495.0 442.5 495.0 443.7 492.0 446.0 C489.0 448.3 488.0 449.0 485.0 446.0 C482.0 443.0 481.7 440.5 483.0 437.0Z" fill="#286488"/>
<path d="M603.4 488.0 C603.7 484.3 603.6 483.7 608.0 481.0 C612.4 478.3 614.6 478.0 616.6 480.0 C618.6 482.0 617.2 483.0 614.0 487.0 C610.8 491.0 610.5 491.7 607.0 492.0 C603.5 492.3 603.1 491.7 603.4 488.0Z" fill="#18A018"/>
<path d="M519.0 473.0 C521.0 469.3 520.3 469.5 526.0 468.0 C531.7 466.5 532.3 466.2 536.0 468.5 C539.7 470.8 539.3 471.2 537.0 475.0 C534.7 478.8 534.7 478.7 529.0 480.0 C523.3 481.3 523.3 481.3 520.0 479.0 C516.7 476.7 517.0 476.7 519.0 473.0Z" fill="#10E010"/>
<path d="M478.0 503.0 C480.3 499.0 479.7 500.0 485.0 499.0 C490.3 498.0 489.8 497.3 494.0 500.0 C498.2 502.7 497.8 502.3 497.5 507.0 C497.2 511.7 497.5 511.0 493.0 514.0 C488.5 517.0 489.0 517.0 484.0 516.0 C479.0 515.0 480.0 515.3 478.0 511.0 C476.0 506.7 475.7 507.0 478.0 503.0Z" fill="#18A018"/>
<path d="M425.0 478.0 C428.0 468.3 431.0 472.0 436.0 476.0 C441.0 480.0 438.7 480.3 440.0 490.0 C441.3 499.7 437.7 495.0 440.0 505.0 C442.3 515.0 443.0 511.7 447.0 520.0 C451.0 528.3 451.7 521.3 452.0 530.0 C452.3 538.7 451.7 539.7 448.0 546.0 C444.3 552.3 442.0 552.7 441.0 549.0 C440.0 545.3 445.3 543.0 445.0 535.0 C444.7 527.0 445.0 530.0 440.0 525.0 C435.0 520.0 434.3 526.7 430.0 520.0 C425.7 513.3 428.7 519.0 427.0 505.0 C425.3 491.0 422.0 487.7 425.0 478.0Z" fill="#18A018"/>
<path d="M449.0 499.0 C450.7 495.0 452.3 496.0 455.0 498.0 C457.7 500.0 457.0 500.7 457.0 505.0 C457.0 509.3 457.3 509.3 455.0 511.0 C452.7 512.7 452.0 514.0 450.0 510.0 C448.0 506.0 447.3 503.0 449.0 499.0Z" fill="#A0E482"/>
<path d="M546.0 563.0 C546.0 560.0 546.0 560.2 550.0 557.0 C554.0 553.8 553.7 554.2 558.0 553.5 C562.3 552.8 563.0 552.5 563.0 555.0 C563.0 557.5 562.3 557.3 558.0 561.0 C553.7 564.7 554.0 565.3 550.0 566.0 C546.0 566.7 546.0 566.0 546.0 563.0Z" fill="#18A018"/>
<path d="M549.0 561.5 C549.7 559.5 549.7 559.5 553.0 557.5 C556.3 555.5 558.0 554.7 559.0 555.5 C560.0 556.3 558.7 557.3 556.0 560.0 C553.3 562.7 553.3 563.0 551.0 563.5 C548.7 564.0 548.3 563.5 549.0 561.5Z" fill="#10E010"/>
<path d="M558.0 531.0 C559.3 528.3 560.3 528.3 563.0 530.0 C565.7 531.7 564.7 531.7 566.0 536.0 C567.3 540.3 568.3 540.0 567.0 543.0 C565.7 546.0 564.7 546.7 562.0 545.0 C559.3 543.3 560.3 542.7 559.0 538.0 C557.7 533.3 556.7 533.7 558.0 531.0Z" fill="#286488"/>
<path d="M456.0 557.0 C455.9 553.2 454.9 554.0 459.0 551.5 C463.1 549.0 459.8 550.4 468.4 549.5 C477.0 548.6 473.8 549.1 484.7 548.8 C495.6 548.5 491.7 548.3 501.0 548.5 C510.3 548.7 507.5 548.0 512.5 549.5 C517.5 551.0 514.8 549.5 516.0 553.0 C517.2 556.5 531.3 557.3 516.0 560.0 C500.7 562.7 485.8 553.7 470.0 561.0 C454.2 568.3 471.0 575.0 468.5 582.0 C466.0 589.0 465.5 588.3 462.5 582.0 C459.5 575.7 461.6 571.3 459.4 563.0 C457.2 554.7 456.1 560.8 456.0 557.0Z" fill="#286488"/>
<path d="M402.0 502.0 C406.0 489.7 404.7 498.0 412.0 499.0 C419.3 500.0 418.7 498.0 424.0 505.0 C429.3 512.0 426.7 510.0 428.0 520.0 C429.3 530.0 426.0 525.7 428.0 535.0 C430.0 544.3 430.7 539.0 434.0 548.0 C437.3 557.0 435.7 554.0 438.0 562.0 C440.3 570.0 443.7 567.3 441.0 572.0 C438.3 576.7 437.7 585.0 430.0 576.0 C422.3 567.0 428.0 558.3 418.0 545.0 C408.0 531.7 405.3 550.3 400.0 536.0 C394.7 521.7 398.0 514.3 402.0 502.0Z" fill="#286488"/>
<path d="M366.0 437.0 C368.8 433.0 367.7 433.3 373.5 435.0 C379.3 436.7 376.8 437.0 383.5 442.0 C390.2 447.0 387.4 444.0 393.6 450.0 C399.8 456.0 398.5 451.7 402.0 460.0 C405.5 468.3 411.3 461.7 404.0 475.0 C396.7 488.3 404.7 495.0 380.0 500.0 C355.3 505.0 341.7 497.7 330.0 490.0 C318.3 482.3 336.7 484.1 345.0 477.0 C353.3 469.9 348.8 475.4 355.0 468.7 C361.2 462.0 360.2 464.2 363.5 457.0 C366.8 449.8 364.2 453.7 365.0 447.0 C365.8 440.3 363.2 441.0 366.0 437.0Z" fill="#1020C0"/>
<path d="M617.0 525.0 C621.0 522.0 620.7 522.3 630.0 523.0 C639.3 523.7 637.3 523.3 645.0 527.0 C652.7 530.7 653.0 529.7 653.0 534.0 C653.0 538.3 653.3 539.0 645.0 540.0 C636.7 541.0 637.0 539.7 628.0 537.0 C619.0 534.3 621.7 536.0 618.0 532.0 C614.3 528.0 613.0 528.0 617.0 525.0Z" fill="#1020C0"/>
<path d="M663.0 540.0 C665.7 534.0 665.3 534.3 672.0 530.0 C678.7 525.7 679.7 524.7 683.0 527.0 C686.3 529.3 685.7 530.3 682.0 537.0 C678.3 543.7 678.0 543.3 672.0 547.0 C666.0 550.7 667.0 550.3 664.0 548.0 C661.0 545.7 660.3 546.0 663.0 540.0Z" fill="#1020C0"/>
<path d="M605.0 560.0 C609.7 556.7 608.7 558.0 618.0 558.0 C627.3 558.0 629.0 556.0 633.0 560.0 C637.0 564.0 637.0 566.0 630.0 570.0 C623.0 574.0 620.7 572.7 612.0 572.0 C603.3 571.3 606.3 572.0 604.0 568.0 C601.7 564.0 600.3 563.3 605.0 560.0Z" fill="#1020C0"/>
<path d="M560.0 564.0 C562.0 561.3 564.3 561.3 568.0 563.0 C571.7 564.7 573.0 566.3 571.0 569.0 C569.0 571.7 565.7 572.7 562.0 571.0 C558.3 569.3 558.0 566.7 560.0 564.0Z" fill="#1020C0"/>
<path d="M687.0 462.0 C688.7 459.0 689.7 459.3 695.0 458.0 C700.3 456.7 701.3 456.0 703.0 458.0 C704.7 460.0 704.3 461.0 700.0 464.0 C695.7 467.0 694.3 467.7 690.0 467.0 C685.7 466.3 685.3 465.0 687.0 462.0Z" fill="#1020C0"/>
<path d="M580.0 507.0 C582.0 504.7 582.7 504.3 586.0 505.0 C589.3 505.7 590.3 506.3 590.0 509.0 C589.7 511.7 588.3 512.0 585.0 513.0 C581.7 514.0 581.7 514.0 580.0 512.0 C578.3 510.0 578.0 509.3 580.0 507.0Z" fill="#1020C0"/>
<path d="M485.5 439.0 C486.2 437.0 487.5 437.0 489.5 438.0 C491.5 439.0 492.2 440.0 491.5 442.0 C490.8 444.0 489.5 445.0 487.5 444.0 C485.5 443.0 484.8 441.0 485.5 439.0Z" fill="#1020C0"/>
<path d="M411.0 512.0 C412.7 507.7 413.7 508.3 418.0 509.0 C422.3 509.7 421.8 508.0 424.0 514.0 C426.2 520.0 426.2 522.0 424.5 527.0 C422.8 532.0 422.8 530.7 419.0 529.0 C415.2 527.3 415.7 527.7 413.0 522.0 C410.3 516.3 409.3 516.3 411.0 512.0Z" fill="#1020C0"/>
<path d="M428.0 542.0 C428.0 537.0 429.3 537.3 432.0 541.0 C434.7 544.7 436.0 548.0 436.0 553.0 C436.0 558.0 434.7 559.7 432.0 556.0 C429.3 552.3 428.0 547.0 428.0 542.0Z" fill="#1020C0"/>
<path d="M465.0 553.0 C468.0 551.7 472.0 552.0 475.0 554.0 C478.0 556.0 477.0 557.7 474.0 559.0 C471.0 560.3 469.0 560.0 466.0 558.0 C463.0 556.0 462.0 554.3 465.0 553.0Z" fill="#1020C0"/>
<path d="M482.0 554.0 C484.3 552.7 487.3 552.7 490.0 554.0 C492.7 555.3 492.3 556.7 490.0 558.0 C487.7 559.3 485.7 559.3 483.0 558.0 C480.3 556.7 479.7 555.3 482.0 554.0Z" fill="#1020C0"/>
<path d="M496.0 554.0 C498.0 552.7 500.7 552.7 503.0 554.0 C505.3 555.3 505.0 556.7 503.0 558.0 C501.0 559.3 499.3 559.3 497.0 558.0 C494.7 556.7 494.0 555.3 496.0 554.0Z" fill="#1020C0"/>
<path d="M585.0 573.0 C587.3 568.7 588.3 571.0 594.0 571.0 C599.7 571.0 600.0 569.0 602.0 573.0 C604.0 577.0 600.7 577.3 600.0 583.0 C599.3 588.7 601.3 586.0 600.0 590.0 C598.7 594.0 599.3 594.3 596.0 595.0 C592.7 595.7 593.0 595.7 590.0 592.0 C587.0 588.3 588.7 590.3 587.0 584.0 C585.3 577.7 582.7 577.3 585.0 573.0Z" fill="#188888"/>
<path d="M568.0 603.0 C571.7 595.0 574.7 597.0 579.0 598.0 C583.3 599.0 581.0 600.0 581.0 606.0 C581.0 612.0 578.7 609.3 579.0 616.0 C579.3 622.7 585.7 624.0 582.0 626.0 C578.3 628.0 572.7 629.7 568.0 622.0 C563.3 614.3 564.3 611.0 568.0 603.0Z" fill="#188888"/>
<path d="M568.0 605.0 C570.7 598.0 573.0 599.0 576.0 600.0 C579.0 601.0 577.3 602.7 577.0 608.0 C576.7 613.3 574.7 610.3 575.0 616.0 C575.3 621.7 580.3 623.3 578.0 625.0 C575.7 626.7 571.3 627.7 568.0 621.0 C564.7 614.3 565.3 612.0 568.0 605.0Z" fill="#18A018"/>
<path d="M590.0 606.0 C594.5 602.7 597.7 602.0 601.0 605.0 C604.3 608.0 602.8 610.0 600.0 615.0 C597.2 620.0 596.7 620.0 592.5 620.0 C588.3 620.0 588.3 619.7 587.5 615.0 C586.7 610.3 585.5 609.3 590.0 606.0Z" fill="#1020C0"/>
<path d="M746.0 500.0 C751.3 492.3 754.7 492.0 760.0 497.0 C765.3 502.0 762.7 502.3 762.0 515.0 C761.3 527.7 761.0 522.7 758.0 535.0 C755.0 547.3 756.7 550.3 753.0 552.0 C749.3 553.7 750.0 550.7 747.0 540.0 C744.0 529.3 744.3 533.3 744.0 520.0 C743.7 506.7 740.7 507.7 746.0 500.0Z" fill="#1020C0"/>
<path d="M738.0 515.0 C740.0 508.7 741.3 504.3 744.0 506.0 C746.7 507.7 744.7 508.7 746.0 520.0 C747.3 531.3 749.3 535.0 748.0 540.0 C746.7 545.0 745.3 540.0 742.0 535.0 C738.7 530.0 739.3 531.7 738.0 525.0 C736.7 518.3 736.0 521.3 738.0 515.0Z" fill="#286488"/>
<path d="M480.0 441.0 C480.7 438.3 474.0 448.0 486.0 436.0 C498.0 424.0 505.3 414.3 516.0 405.0 C526.7 395.7 526.7 397.3 518.0 408.0 C509.3 418.7 501.3 425.0 490.0 437.0 C478.7 449.0 487.3 442.7 484.0 444.0 C480.7 445.3 479.3 443.7 480.0 441.0Z" fill="#188888"/>
<path d="M478.0 440.0 L481.0 434.5 L512.0 404.0 L513.5 405.5 L484.0 435.0 L479.5 441.0Z" fill="#000" stroke-width="0.3"/>
</g>
<path d="M136.0 225.0 L145.0 216.0 L157.5 212.5 L166.0 214.0 L167.5 219.0 L176.0 219.0 L184.0 212.5 L190.0 214.0 L196.0 209.0 L204.0 209.0 L212.5 206.0 L225.0 202.5 L228.0 195.5 L236.0 189.0 L237.5 169.0 L234.0 160.5 L244.0 159.0 L257.5 158.0 L261.0 162.5 L264.0 154.0 L272.5 141.0 L276.0 133.0 L286.0 137.5 L301.0 140.0 L305.5 134.0 L306.0 124.0 L312.5 119.0 L320.0 117.5 L322.5 111.0 L334.0 112.0 L334.0 120.0 L341.0 129.0 L350.0 134.0 L356.0 139.0 L357.5 151.0 L361.0 155.0 L359.5 166.0 L355.0 176.0 L362.5 182.5 L376.0 185.0 L389.0 189.0 L397.5 199.0 L405.0 201.0 L409.0 214.0 L415.0 226.0 L430.0 229.0 L455.0 231.0 L472.5 231.0 L485.0 239.0 L497.5 244.0 L505.0 246.0 L509.0 244.0 L514.0 249.0 L527.5 242.5 L542.5 236.0 L555.0 235.0 L572.5 232.5 L579.0 226.0 L587.5 217.5 L595.0 210.0 L590.0 202.5 L591.0 194.0 L597.5 191.0 L604.0 192.8 L612.5 194.0 L615.5 192.8 L623.6 183.0 L631.8 181.4 L639.9 174.8 L640.8 170.0 L648.1 165.0 L654.6 161.0 L664.4 155.3 L674.2 156.0 L679.1 152.8 L672.6 145.5 L662.8 137.3 L656.3 136.5 L648.9 142.2 L641.6 140.6 L633.4 143.8 L628.5 138.1 L631.8 135.7 L634.5 125.0 L636.7 114.5 L639.9 109.6 L649.7 112.0 L657.9 104.7 L663.6 99.8 L665.0 91.0 L672.5 77.5 L675.0 67.5 L666.0 61.0 L675.0 52.5 L685.0 46.0 L700.0 42.5 L712.5 45.0 L722.5 46.0 L730.0 55.0 L737.5 67.5 L745.0 80.0 L755.0 91.0 L772.5 95.0 L785.0 99.0 L794.0 112.5 L810.0 109.0 L820.0 99.0 L832.5 91.0 L834.0 105.0 L830.0 125.0 L829.0 147.5 L815.0 155.0 L806.0 157.5 L812.5 170.0 L815.0 182.5 L810.0 194.0 L805.0 192.5 L799.0 204.0 L790.0 210.0 L786.0 219.0 L775.0 222.5 L765.0 230.0 L756.0 244.0 L745.0 255.0 L734.0 261.0 L725.0 269.0 L720.0 275.0 L714.0 279.0 L716.0 270.0 L714.0 265.0 L720.0 255.0 L721.0 249.0 L715.0 244.0 L706.0 246.0 L699.0 256.0 L687.5 267.5 L676.0 277.5 L671.0 285.0 L674.0 292.5 L682.5 295.0 L689.0 300.0 L691.0 307.5 L697.5 309.0 L705.0 300.0 L711.0 296.0 L710.0 290.0 L717.5 297.5 L727.5 299.0 L736.0 297.5 L736.0 300.0 L735.0 305.0 L725.0 309.0 L716.0 312.5 L715.0 320.0 L710.0 324.0 L705.0 332.5 L700.0 340.0 L700.0 346.0 L707.5 350.0 L715.0 356.0 L720.0 365.0 L727.5 375.0 L735.0 382.5 L742.5 387.5 L740.0 395.0 L745.0 402.5 L739.0 407.5 L730.0 416.0 L736.0 414.0 L746.0 412.5 L747.5 422.5 L745.0 432.5 L746.0 442.5 L742.5 452.5 L737.5 460.0 L735.0 467.5 L730.0 477.5 L727.5 490.0 L720.0 502.5 L710.0 515.0 L700.0 525.0 L690.0 532.5 L677.5 540.0 L665.0 546.0 L655.0 554.0 L645.0 560.0 L635.0 565.0 L622.5 569.0 L610.0 572.5 L601.0 576.0 L598.0 582.0 L599.0 589.0 L596.3 593.0 L590.5 590.5 L587.6 583.3 L587.3 576.0 L580.0 572.5 L570.0 571.0 L560.0 572.5 L550.0 571.0 L544.0 567.5 L539.0 562.5 L539.0 555.0 L530.0 551.0 L522.5 547.5 L515.0 552.5 L505.0 554.0 L495.0 555.0 L485.0 556.0 L475.0 556.0 L467.5 560.0 L466.0 570.0 L465.0 579.0 L459.0 579.0 L456.0 571.0 L447.5 572.5 L440.0 571.0 L437.5 562.5 L429.0 559.0 L427.5 550.0 L422.5 542.5 L424.0 535.0 L415.0 530.0 L406.0 532.5 L405.0 522.5 L411.0 512.5 L421.0 507.5 L426.0 495.0 L425.4 480.4 L421.2 477.0 L420.4 468.7 L415.3 463.7 L410.3 460.3 L407.0 467.0 L403.6 471.2 L400.3 468.7 L393.6 464.5 L385.0 462.0 L378.5 465.3 L370.0 467.9 L360.0 472.0 L355.0 478.7 L343.4 478.7 L333.3 476.2 L329.0 466.0 L326.0 459.0 L320.0 460.0 L310.0 454.0 L300.0 452.5 L294.0 456.0 L289.0 465.0 L286.0 452.5 L277.5 452.5 L267.5 450.0 L257.5 446.0 L250.0 447.5 L247.5 440.0 L239.0 435.0 L231.0 430.0 L230.0 424.0 L225.0 420.0 L216.0 412.5 L207.5 402.5 L196.0 395.0 L190.0 399.0 L180.0 389.0 L174.0 380.0 L165.0 375.0 L166.0 365.0 L165.0 351.0 L169.0 350.0 L175.0 355.0 L177.5 345.0 L174.0 337.5 L174.0 327.5 L177.5 322.5 L172.5 312.5 L170.0 300.0 L160.0 295.0 L151.0 290.0 L152.5 280.0 L146.0 271.0 L137.5 265.0 L144.0 261.0 L145.0 252.5 L142.5 241.0 L135.0 235.0Z M755.0 497.5 L760.0 499.0 L761.0 510.0 L760.0 522.5 L757.5 535.0 L752.5 550.0 L750.0 545.0 L744.0 540.0 L739.0 530.0 L740.0 517.5 L745.0 505.0 L750.0 499.0Z M597.5 595.0 L605.0 596.0 L607.5 602.5 L604.0 612.5 L597.5 620.0 L587.5 625.0 L577.5 622.5 L571.0 616.0 L572.5 607.5 L580.0 600.0 L590.0 596.0Z" fill="none" stroke="#000" stroke-width="1.3" stroke-linejoin="round"/>
<path d="M399.4 351.5 C399.4 351.5 402.9 352.2 408.8 353.6 C414.7 355.0 411.6 355.3 417.2 355.6 C422.8 355.9 421.7 353.5 425.5 354.6 C429.3 355.7 428.7 358.8 428.7 358.8" fill="none" stroke="#111" stroke-width="0.9" stroke-linejoin="round" stroke-linecap="round"/>
<path d="M428.7 358.8 C428.7 358.8 430.8 362.3 433.9 367.2 C437.0 372.1 433.9 369.9 438.1 373.4 C442.3 376.9 440.8 376.9 446.4 377.6 C452.0 378.3 448.5 376.5 454.8 375.5 C461.1 374.5 459.0 373.8 465.3 374.5 C471.6 375.2 468.7 374.8 473.6 377.6 C478.5 380.4 478.1 382.8 479.9 382.8 C481.7 382.8 480.6 381.4 478.9 377.6 C477.2 373.8 478.5 375.5 474.7 371.3 C470.9 367.1 472.6 369.3 467.4 365.1 C462.2 360.9 463.5 363.0 459.0 358.8 C454.5 354.6 455.9 356.7 453.8 352.5 C451.7 348.3 451.7 350.4 452.7 346.2 C453.7 342.0 452.7 343.1 456.9 340.0 C461.1 336.9 460.4 338.9 465.3 336.8 C470.2 334.7 468.0 333.3 471.5 333.7 C475.0 334.1 471.5 335.1 475.7 337.9 C479.9 340.7 478.5 340.3 484.1 342.0 C489.7 343.7 487.2 344.0 492.5 343.1 C497.8 342.2 495.3 343.7 500.0 339.3 C504.7 334.9 503.4 335.3 506.7 330.0 C510.0 324.7 504.5 328.9 510.0 323.3 C515.5 317.7 516.6 320.0 523.3 313.3 C530.0 306.6 526.1 311.1 530.0 303.3 C533.9 295.5 532.2 298.9 535.0 290.0 C537.8 281.1 535.5 285.0 538.3 276.7 C541.1 268.4 539.4 270.6 543.3 265.0 C547.2 259.4 542.2 260.6 550.0 260.0 C557.8 259.4 556.7 261.6 566.7 263.3 C576.7 265.0 572.2 263.3 580.0 265.0 C587.8 266.7 585.8 263.3 590.0 268.3 C594.2 273.3 593.8 270.5 592.7 280.0 C591.6 289.5 589.6 284.5 586.7 296.7 C583.8 308.9 584.6 302.3 584.0 316.7 C583.4 331.1 584.1 325.6 585.0 340.0 C585.9 354.4 582.8 354.4 586.7 360.0 C590.6 365.6 588.9 359.5 596.7 356.7 C604.5 353.9 601.1 352.3 610.0 351.7 C618.9 351.1 615.5 354.5 623.3 355.0 C631.1 355.5 626.6 356.1 633.3 353.3 C640.0 350.5 637.7 352.2 643.3 346.7 C648.9 341.2 643.3 344.5 650.0 336.7 C656.7 328.9 655.5 332.2 663.3 323.3 C671.1 314.4 667.7 317.8 673.3 310.0 C678.9 302.2 675.5 304.4 680.0 300.0 C684.5 295.6 686.7 296.7 686.7 296.7" fill="none" stroke="#1414C8" stroke-width="1.5" stroke-linejoin="round" stroke-linecap="round"/>
<path d="M330.0 370.0 C330.0 370.0 328.3 360.8 332.5 357.5 C336.7 354.2 336.7 358.8 342.5 360.0 C348.3 361.2 343.3 361.7 350.0 361.2 C356.7 360.8 354.2 360.4 362.5 358.8 C370.8 357.1 367.5 355.8 375.0 356.2 C382.5 356.7 379.2 356.2 385.0 360.0 C390.8 363.8 387.9 363.3 392.5 367.5 C397.1 371.7 398.8 372.5 398.8 372.5" fill="none" stroke="#111" stroke-width="0.9" stroke-linejoin="round" stroke-linecap="round"/>
<path d="M398.8 372.5 C398.8 372.5 402.1 375.8 410.0 385.0 C417.9 394.2 416.2 391.7 422.5 400.0 C428.8 408.3 425.8 401.7 428.8 410.0 C431.7 418.3 430.0 415.0 431.2 425.0 C432.5 435.0 431.2 430.0 432.5 440.0 C433.8 450.0 434.2 445.0 435.0 455.0 C435.8 465.0 434.2 462.5 435.0 470.0 C435.8 477.5 434.2 472.5 437.5 477.5 C440.8 482.5 440.8 485.0 445.0 485.0 C449.2 485.0 447.5 476.7 450.0 477.5 C452.5 478.3 451.2 481.2 452.5 487.5 C453.8 493.8 450.8 492.9 453.8 496.2 C456.7 499.6 456.2 497.9 461.2 497.5 C466.2 497.1 465.4 493.8 468.8 495.0 C472.1 496.2 468.3 500.0 471.2 501.2 C474.2 502.5 472.5 500.8 477.5 498.8 C482.5 496.7 482.1 497.5 486.2 495.0 C490.4 492.5 487.5 495.4 490.0 491.2 C492.5 487.1 492.3 489.7 493.8 482.5 C495.2 475.3 492.8 476.6 494.4 469.6 C496.0 462.6 493.1 464.9 498.5 461.5 C503.9 458.1 502.5 461.1 510.7 459.4 C518.9 457.7 516.9 459.1 523.0 456.4 C529.1 453.7 524.8 455.3 529.0 451.3 C533.2 447.3 529.5 447.8 535.6 444.4 C541.7 441.0 540.1 444.9 547.4 441.1 C554.7 437.3 552.2 439.1 557.6 433.0 C563.0 426.9 557.6 426.9 563.7 422.8 C569.8 418.7 566.4 421.0 575.9 420.7 C585.4 420.4 583.4 420.1 592.2 421.8 C601.0 423.5 596.3 422.8 602.4 425.8 C608.5 428.8 605.8 426.5 610.5 430.9 C615.2 435.3 611.8 436.0 616.6 439.1 C621.4 442.2 619.4 442.1 624.8 440.1 C630.2 438.1 628.2 438.1 632.9 433.0 C637.6 427.9 636.2 428.3 639.0 424.8 C641.8 421.3 637.6 422.4 641.2 422.5 C644.9 422.6 643.8 421.7 650.0 425.0 C656.2 428.3 653.3 429.6 660.0 432.5 C666.7 435.4 664.2 435.4 670.0 433.8 C675.8 432.1 673.3 432.1 677.5 427.5 C681.7 422.9 678.8 424.6 682.5 420.0 C686.2 415.4 685.0 418.8 688.8 413.8 C692.5 408.8 691.2 410.4 693.8 405.0 C696.2 399.6 694.3 401.7 696.2 397.5 C698.2 393.3 695.8 395.4 699.5 392.5 C703.2 389.6 702.3 390.4 707.5 388.8 C712.7 387.1 710.0 386.7 715.0 387.5 C720.0 388.3 717.5 389.2 722.5 391.2 C727.5 393.3 725.0 392.1 730.0 393.8 C735.0 395.4 733.3 394.6 737.5 396.2 C741.7 397.9 742.5 398.8 742.5 398.8" fill="none" stroke="#1414C8" stroke-width="1.5" stroke-linejoin="round" stroke-linecap="round"/>
<g clip-path="url(#ins)"><defs><clipPath id="ins"><rect x="807" y="452" width="168" height="227"/></clipPath></defs><path d="M800.0 440.0 L800.0 478.5 L809.4 478.5 L812.0 476.5 L814.8 475.8 L818.0 477.3 L821.9 476.7 L824.5 475.0 L827.3 474.9 L830.0 475.8 L832.7 474.9 L836.0 473.0 L839.8 472.2 L842.5 473.2 L844.3 474.9 L845.0 478.5 L846.1 481.2 L849.0 483.6 L852.4 484.7 L856.0 484.0 L859.6 484.7 L863.0 485.5 L866.7 484.7 L869.0 485.8 L871.2 485.6 L871.3 488.5 L872.1 491.0 L873.8 493.2 L875.7 494.6 L877.0 492.5 L877.5 490.1 L876.3 487.5 L875.7 485.6 L879.0 484.2 L882.9 483.8 L887.0 483.3 L891.8 482.0 L895.5 480.6 L899.0 478.5 L900.3 476.3 L901.7 474.9 L904.5 475.5 L907.9 474.9 L911.5 473.3 L915.1 471.3 L918.5 469.0 L922.3 466.8 L926.0 463.6 L929.4 460.5 L932.0 458.0 L934.8 455.2 L938.4 451.6 L940.0 440.0Z M863.1 505.3 L864.0 503.0 L865.8 500.9 L868.8 499.0 L872.1 497.8 L875.7 497.2 L879.3 497.3 L882.9 500.0 L881.8 503.0 L880.2 505.3 L878.0 508.0 L875.7 509.8 L873.0 511.5 L870.3 512.5 L867.3 512.0 L864.9 510.7 L863.3 508.3Z M952.7 450.0 L960.8 450.0 L961.2 455.0 L960.8 458.8 L960.0 462.5 L959.0 465.9 L958.2 469.5 L957.2 472.2 L955.8 470.2 L954.5 468.6 L953.0 466.0 L951.8 463.2 L951.0 460.0 L951.0 457.0 L951.5 453.5Z" fill="#A9C6EE" stroke="#000" stroke-width="1.5" stroke-linejoin="round"/><path d="M829.0 451.6 L829.5 454.5 L830.9 457.0 L831.3 459.5 L832.7 461.4 L836.0 463.0 L839.8 465.0 L841.0 466.8 L842.5 467.7 L841.3 470.0 L839.8 472.2" fill="none" stroke="#000" stroke-width="1.1"/><path d="M888.2 455.2 L887.0 458.5 L886.4 462.3 L884.5 466.0 L882.9 469.5 L881.0 473.0 L879.3 476.7 L877.3 479.5 L875.7 482.0 L874.5 484.0 L873.8 485.6" fill="none" stroke="#000" stroke-width="1.1"/><path d="M879.3 451.6 L880.5 454.3 L882.9 456.0 L885.5 455.0 L888.2 455.2 L891.0 453.3 L893.6 452.5 L895.0 451.6" fill="none" stroke="#000" stroke-width="1.1"/><path d="M904.4 451.6 L905.5 454.3 L907.9 456.0 L911.5 455.2 L915.1 455.2 L918.5 453.8 L922.3 453.4 L924.0 455.8 L925.8 457.9 L926.3 459.8 L927.6 461.4" fill="none" stroke="#000" stroke-width="1.1"/><path d="M848.8 451.6 L850.0 453.6 L852.4 454.3 L855.0 453.3 L857.8 453.4 L859.6 451.6" fill="none" stroke="#000" stroke-width="1.1"/><path d="M968.5 453.3 L968.5 458.0" stroke="#2F5F5F" stroke-width="1" fill="none"/><path d="M964.8 474.6 L962.6 481.1" stroke="#2F5F5F" stroke-width="1" fill="none"/><path d="M954.6 498.7 L952.2 506.1" stroke="#2F5F5F" stroke-width="1" fill="none"/><path d="M951.5 522.8 L951.9 531.1" stroke="#2F5F5F" stroke-width="1" fill="none"/><path d="M953.7 556.1 L951.9 564.4" stroke="#2F5F5F" stroke-width="1" fill="none"/><path d="M869.4 529.3 L874.1 535.7" stroke="#2F5F5F" stroke-width="1" fill="none"/><path d="M879.3 559.8 L878.7 568.1" stroke="#2F5F5F" stroke-width="1" fill="none"/><path d="M932.0 592.5 L930.0 598.0" stroke="#2F5F5F" stroke-width="1" fill="none"/><path d="M861.5 601.9 L862.7 609.4" stroke="#2F5F5F" stroke-width="1" fill="none"/><path d="M898.3 607.5 L904.0 611.2" stroke="#2F5F5F" stroke-width="1" fill="none"/><path d="M898.3 624.4 L905.8 626.3" stroke="#2F5F5F" stroke-width="1" fill="none"/><circle cx="946.3" cy="461.3" r="1.2" fill="#2F5F5F"/><circle cx="927.4" cy="487.6" r="1.0" fill="#2F5F5F"/><circle cx="963.0" cy="466.5" r="0.8" fill="#2F5F5F"/><circle cx="963.0" cy="471.0" r="0.8" fill="#2F5F5F"/><circle cx="888.0" cy="521.5" r="0.8" fill="#2F5F5F"/><circle cx="890.5" cy="526.0" r="1.0" fill="#2F5F5F"/><circle cx="894.0" cy="523.5" r="0.7" fill="#2F5F5F"/><circle cx="896.0" cy="527.5" r="0.9" fill="#2F5F5F"/><circle cx="892.0" cy="528.5" r="0.7" fill="#2F5F5F"/><circle cx="908.0" cy="531.0" r="0.7" fill="#2F5F5F"/><circle cx="911.0" cy="527.5" r="0.8" fill="#2F5F5F"/><circle cx="914.5" cy="527.0" r="0.8" fill="#2F5F5F"/><circle cx="916.0" cy="530.5" r="0.7" fill="#2F5F5F"/><circle cx="912.5" cy="532.0" r="0.6" fill="#2F5F5F"/><circle cx="940.5" cy="530.5" r="0.7" fill="#2F5F5F"/><circle cx="912.0" cy="570.0" r="0.7" fill="#2F5F5F"/><circle cx="915.0" cy="574.0" r="0.8" fill="#2F5F5F"/><circle cx="918.0" cy="569.0" r="0.7" fill="#2F5F5F"/><circle cx="921.0" cy="577.0" r="0.8" fill="#2F5F5F"/><circle cx="924.0" cy="572.0" r="0.7" fill="#2F5F5F"/><circle cx="927.0" cy="580.0" r="0.8" fill="#2F5F5F"/><circle cx="930.0" cy="575.0" r="0.7" fill="#2F5F5F"/><circle cx="933.0" cy="569.0" r="0.7" fill="#2F5F5F"/><circle cx="936.0" cy="573.0" r="0.7" fill="#2F5F5F"/><circle cx="939.0" cy="567.0" r="0.7" fill="#2F5F5F"/><circle cx="942.0" cy="571.0" r="0.7" fill="#2F5F5F"/><circle cx="916.0" cy="583.0" r="0.8" fill="#2F5F5F"/><circle cx="920.0" cy="587.0" r="0.7" fill="#2F5F5F"/><circle cx="925.0" cy="585.0" r="0.8" fill="#2F5F5F"/><circle cx="912.0" cy="590.0" r="0.7" fill="#2F5F5F"/><circle cx="908.0" cy="586.0" r="0.7" fill="#2F5F5F"/><circle cx="903.0" cy="589.0" r="0.7" fill="#2F5F5F"/><circle cx="897.0" cy="592.0" r="0.7" fill="#2F5F5F"/><circle cx="890.0" cy="594.0" r="0.7" fill="#2F5F5F"/><circle cx="884.0" cy="596.0" r="0.7" fill="#2F5F5F"/><circle cx="878.0" cy="597.0" r="0.7" fill="#2F5F5F"/><circle cx="914.0" cy="595.0" r="0.7" fill="#2F5F5F"/><circle cx="921.0" cy="593.0" r="0.7" fill="#2F5F5F"/></g><path d="M746.0 415.8h0.9v0.9h-0.9zM746.6 420.8h0.9v1.5h-0.9zM745.6 414.7h2.0v0.9h-2.0zM747.7 414.7h0.9v1.5h-0.9zM745.9 413.8h0.9v1.5h-0.9zM746.1 418.5h1.2v0.9h-1.2zM746.3 418.2h2.0v0.9h-2.0zM748.2 417.7h1.2v0.9h-1.2zM748.7 418.0h1.6v0.9h-1.6zM746.1 418.1h0.9v1.5h-0.9zM748.5 414.2h2.0v1.2h-2.0zM750.7 416.6h1.6v1.2h-1.6zM745.9 415.1h1.2v0.9h-1.2zM748.0 418.1h1.6v1.5h-1.6zM748.3 416.7h0.9v0.9h-0.9zM746.3 417.7h1.6v0.9h-1.6zM745.7 432.0h0.9v1.5h-0.9zM749.6 429.1h1.6v1.2h-1.6zM747.3 429.8h2.0v0.9h-2.0zM749.5 431.9h2.0v1.5h-2.0zM745.1 429.0h1.6v1.5h-1.6zM748.2 428.8h2.0v1.2h-2.0zM749.3 430.6h1.6v0.9h-1.6zM745.4 432.0h0.9v1.2h-0.9zM750.1 423.8h1.2v1.5h-1.2zM747.3 425.1h2.0v0.9h-2.0zM747.5 424.3h1.6v0.9h-1.6zM748.9 431.6h1.6v1.5h-1.6zM746.7 426.7h2.0v0.9h-2.0zM746.7 423.9h1.2v1.5h-1.2zM747.8 425.1h1.2v1.2h-1.2zM746.3 425.2h1.6v1.5h-1.6zM749.8 437.7h0.9v1.2h-0.9zM748.8 441.2h2.0v1.2h-2.0zM744.7 436.6h2.0v0.9h-2.0zM749.7 434.0h2.0v0.9h-2.0zM746.7 433.4h0.9v0.9h-0.9zM746.8 438.0h1.6v1.5h-1.6zM748.6 432.4h2.0v0.9h-2.0zM749.9 438.4h1.6v1.2h-1.6zM748.5 433.4h2.0v1.2h-2.0zM744.8 437.4h0.9v1.5h-0.9zM745.2 435.9h1.2v1.5h-1.2zM749.3 432.3h1.6v0.9h-1.6zM749.6 439.0h1.6v1.5h-1.6zM748.1 440.9h1.6v1.5h-1.6zM744.9 436.2h1.2v1.5h-1.2zM746.6 437.8h1.2v1.5h-1.2zM747.5 452.1h1.2v0.9h-1.2zM745.6 451.5h1.2v0.9h-1.2zM744.4 447.8h0.9v0.9h-0.9zM744.0 450.7h1.2v1.5h-1.2zM744.1 448.6h1.6v1.2h-1.6zM745.1 443.1h2.0v0.9h-2.0zM745.7 446.2h0.9v1.2h-0.9zM743.0 451.7h0.9v1.5h-0.9zM746.0 443.8h1.2v1.2h-1.2zM743.5 451.6h1.6v0.9h-1.6zM747.4 452.0h2.0v1.2h-2.0zM748.6 447.9h1.2v0.9h-1.2zM741.8 452.2h2.0v1.5h-2.0zM748.6 445.0h2.0v1.5h-2.0zM742.2 451.7h1.2v0.9h-1.2zM750.1 444.1h0.9v1.5h-0.9zM738.3 457.8h1.2v0.9h-1.2zM742.1 452.5h1.2v1.5h-1.2zM741.9 455.7h1.2v0.9h-1.2zM738.2 459.5h2.0v1.5h-2.0zM742.8 459.0h2.0v1.5h-2.0zM741.4 453.2h0.9v1.2h-0.9zM740.0 459.3h1.2v0.9h-1.2zM743.3 454.5h0.9v1.5h-0.9zM744.0 454.2h2.0v0.9h-2.0zM737.5 458.7h1.2v1.2h-1.2zM741.7 452.4h2.0v1.5h-2.0zM745.5 454.8h0.9v1.2h-0.9zM744.6 457.4h1.2v1.5h-1.2zM742.0 455.2h2.0v1.5h-2.0zM737.3 467.8h1.6v1.5h-1.6zM734.9 466.6h2.0v0.9h-2.0zM736.9 463.3h1.6v0.9h-1.6zM736.4 465.2h1.2v1.5h-1.2zM736.2 462.1h1.2v1.5h-1.2zM736.2 464.9h1.6v0.9h-1.6zM734.8 467.2h0.9v1.2h-0.9zM734.8 466.5h1.2v0.9h-1.2zM740.1 466.8h2.0v1.2h-2.0zM736.7 463.2h0.9v1.5h-0.9zM736.7 462.8h2.0v1.2h-2.0zM736.1 465.4h1.6v1.5h-1.6zM729.6 476.8h1.2v0.9h-1.2zM734.5 468.3h1.2v1.2h-1.2zM734.1 476.5h1.6v1.2h-1.6zM737.8 470.8h2.0v1.5h-2.0zM733.3 470.7h1.2v1.2h-1.2zM730.4 476.4h0.9v1.5h-0.9zM734.4 468.3h1.2v0.9h-1.2zM733.1 469.9h0.9v1.2h-0.9zM730.5 477.7h1.6v1.5h-1.6zM735.4 469.3h1.2v0.9h-1.2zM730.0 477.1h1.2v0.9h-1.2zM732.0 477.6h1.2v1.2h-1.2zM734.7 472.9h1.6v1.2h-1.6zM735.1 477.6h0.9v0.9h-0.9zM735.8 468.2h1.2v1.5h-1.2zM736.3 474.1h0.9v1.5h-0.9zM731.5 476.0h2.0v1.5h-2.0zM728.3 488.0h1.6v1.5h-1.6zM729.2 480.1h1.2v1.5h-1.2zM727.6 486.5h1.6v0.9h-1.6zM727.1 487.8h1.6v1.2h-1.6zM728.9 479.4h2.0v1.5h-2.0zM728.3 485.9h1.2v1.5h-1.2zM730.0 481.3h1.2v1.2h-1.2zM728.7 483.0h1.6v1.5h-1.6zM728.4 481.4h1.6v0.9h-1.6zM728.3 481.8h2.0v0.9h-2.0zM729.8 483.6h1.2v0.9h-1.2zM728.0 483.7h1.6v0.9h-1.6zM731.2 479.6h2.0v0.9h-2.0zM731.0 481.6h0.9v1.5h-0.9zM731.0 490.2h1.2v1.5h-1.2zM730.6 489.2h2.0v1.2h-2.0zM729.2 486.7h1.6v1.5h-1.6zM727.9 485.1h2.0v1.5h-2.0zM729.3 486.5h0.9v1.5h-0.9zM732.3 485.5h1.2v0.9h-1.2zM726.8 490.1h1.6v0.9h-1.6zM725.3 495.1h0.9v1.5h-0.9zM728.4 490.9h1.2v1.2h-1.2zM726.2 493.7h0.9v1.5h-0.9zM723.8 503.6h0.9v1.5h-0.9zM725.8 497.9h2.0v1.2h-2.0zM724.4 501.9h1.2v1.5h-1.2zM721.6 499.3h2.0v1.2h-2.0zM720.6 500.2h1.6v0.9h-1.6zM724.5 498.7h0.9v1.5h-0.9zM726.2 491.7h1.6v1.5h-1.6zM722.6 496.7h0.9v1.2h-0.9zM727.3 494.4h1.2v1.5h-1.2zM725.9 497.3h1.6v1.2h-1.6zM726.4 497.3h1.2v1.2h-1.2zM723.7 504.4h0.9v1.2h-0.9zM726.8 497.4h2.0v1.2h-2.0zM728.0 496.9h1.2v0.9h-1.2zM722.7 497.0h1.6v1.2h-1.6zM729.3 493.3h1.6v0.9h-1.6zM722.0 498.7h2.0v1.2h-2.0zM726.6 489.9h2.0v1.5h-2.0zM724.1 495.6h1.2v1.2h-1.2zM716.6 506.8h1.6v0.9h-1.6zM716.9 506.7h2.0v0.9h-2.0zM710.3 514.0h0.9v1.5h-0.9zM717.4 506.3h2.0v1.2h-2.0zM711.2 516.0h1.6v1.2h-1.6zM715.2 514.1h1.6v0.9h-1.6zM721.1 504.4h1.2v0.9h-1.2zM710.8 515.0h1.6v0.9h-1.6zM714.6 514.0h2.0v0.9h-2.0zM713.3 513.8h1.2v1.5h-1.2zM722.4 506.1h2.0v1.2h-2.0zM713.4 509.8h1.6v1.2h-1.6zM722.7 505.7h1.2v0.9h-1.2zM715.4 508.5h1.6v1.2h-1.6zM716.1 514.5h1.6v1.2h-1.6zM713.4 510.7h2.0v0.9h-2.0zM717.9 504.3h1.2v1.5h-1.2zM711.7 514.4h1.2v1.2h-1.2zM714.6 516.7h2.0v1.2h-2.0zM718.3 504.0h0.9v0.9h-0.9zM716.0 506.3h1.2v1.2h-1.2zM718.5 506.6h0.9v1.5h-0.9zM711.6 513.6h1.2v1.2h-1.2zM719.4 507.6h2.0v1.2h-2.0zM714.5 509.8h1.2v0.9h-1.2zM707.1 517.6h2.0v1.5h-2.0zM708.6 522.5h0.9v0.9h-0.9zM711.4 517.0h2.0v1.5h-2.0zM704.6 519.4h2.0v1.2h-2.0zM707.1 517.0h1.2v0.9h-1.2zM706.3 521.8h2.0v0.9h-2.0zM703.9 520.0h1.2v0.9h-1.2zM703.8 520.1h1.6v0.9h-1.6zM704.6 522.1h2.0v1.5h-2.0zM701.9 522.2h1.6v1.5h-1.6zM700.3 524.1h1.6v0.9h-1.6zM701.5 522.3h1.6v1.2h-1.6zM707.3 517.8h1.2v1.2h-1.2zM705.7 521.2h0.9v1.2h-0.9zM703.0 522.1h0.9v0.9h-0.9zM706.5 521.5h2.0v0.9h-2.0zM708.9 519.0h1.6v0.9h-1.6zM706.7 521.5h2.0v1.2h-2.0zM702.9 521.6h1.6v1.5h-1.6zM701.0 522.9h2.0v0.9h-2.0zM709.1 520.4h1.2v1.2h-1.2zM709.7 519.2h1.6v0.9h-1.6zM691.1 532.9h1.2v0.9h-1.2zM697.5 531.8h0.9v1.5h-0.9zM698.8 526.4h1.2v0.9h-1.2zM689.9 531.9h0.9v1.5h-0.9zM699.7 525.8h1.6v1.5h-1.6zM698.4 525.3h1.2v1.2h-1.2zM699.3 528.0h2.0v0.9h-2.0zM698.4 529.3h1.6v1.2h-1.6zM695.2 527.8h0.9v1.2h-0.9zM699.5 526.1h0.9v1.5h-0.9zM690.1 531.9h1.6v1.2h-1.6zM692.2 531.7h0.9v1.5h-0.9zM695.5 528.8h2.0v0.9h-2.0zM698.3 529.5h2.0v0.9h-2.0zM693.6 529.6h2.0v0.9h-2.0zM696.7 528.5h0.9v1.2h-0.9zM697.6 525.9h1.6v1.2h-1.6zM699.9 530.5h0.9v1.2h-0.9zM693.9 532.4h1.6v1.2h-1.6zM701.6 527.2h0.9v0.9h-0.9zM679.3 538.1h2.0v1.2h-2.0zM681.1 540.0h2.0v0.9h-2.0zM678.1 538.9h1.6v1.5h-1.6zM680.6 538.8h1.6v1.2h-1.6zM684.9 537.0h0.9v1.5h-0.9zM688.1 534.9h1.2v1.2h-1.2zM688.8 532.3h1.6v0.9h-1.6zM678.6 541.3h0.9v1.2h-0.9zM681.9 536.7h2.0v1.2h-2.0zM678.7 541.7h1.2v0.9h-1.2zM675.9 540.9h1.2v1.5h-1.2zM671.3 544.3h0.9v1.2h-0.9zM674.0 542.1h1.6v1.2h-1.6zM668.0 543.9h1.2v0.9h-1.2zM674.2 540.9h1.2v1.2h-1.2zM676.5 540.0h1.2v1.5h-1.2zM671.2 543.8h0.9v1.5h-0.9zM671.4 542.1h0.9v1.2h-0.9zM666.2 544.8h2.0v1.2h-2.0zM664.4 546.0h0.9v0.9h-0.9zM664.4 549.1h1.2v0.9h-1.2zM662.3 550.2h2.0v1.5h-2.0zM663.2 549.0h0.9v0.9h-0.9zM659.2 551.8h1.6v0.9h-1.6zM664.5 546.1h0.9v0.9h-0.9zM654.5 553.4h1.2v0.9h-1.2zM656.8 552.5h1.6v0.9h-1.6zM648.4 557.1h0.9v1.2h-0.9zM649.1 556.6h0.9v1.2h-0.9zM648.0 557.4h0.9v1.5h-0.9zM653.8 555.7h2.0v1.2h-2.0zM648.3 558.0h0.9v1.2h-0.9zM648.4 559.9h2.0v1.2h-2.0zM655.4 555.1h1.6v1.5h-1.6zM653.5 556.0h1.2v0.9h-1.2zM640.4 561.6h0.9v0.9h-0.9zM641.7 563.5h2.0v0.9h-2.0zM643.4 560.0h1.2v1.5h-1.2zM636.9 563.9h1.6v1.5h-1.6zM639.7 561.9h1.6v0.9h-1.6zM640.6 564.3h0.9v1.2h-0.9zM640.7 563.6h1.2v1.2h-1.2zM634.0 567.3h2.0v1.2h-2.0zM634.9 567.0h2.0v0.9h-2.0zM623.9 569.2h1.2v1.5h-1.2zM625.0 567.6h2.0v1.5h-2.0zM624.9 569.7h1.2v1.5h-1.2zM632.2 565.8h1.2v1.2h-1.2zM630.3 565.8h1.2v0.9h-1.2zM624.4 569.9h0.9v1.5h-0.9zM624.3 567.7h2.0v1.5h-2.0zM612.2 573.1h2.0v1.2h-2.0zM615.2 571.0h1.6v1.2h-1.6zM616.0 570.2h0.9v1.5h-0.9zM610.2 572.5h2.0v1.5h-2.0zM612.8 571.8h1.2v1.2h-1.2zM617.3 569.7h1.6v1.2h-1.6zM618.3 571.5h0.9v0.9h-0.9zM614.3 570.5h1.6v1.5h-1.6zM615.9 570.0h2.0v1.5h-2.0zM600.3 575.2h0.9v1.5h-0.9zM603.1 576.3h1.2v0.9h-1.2zM600.2 576.1h1.2v1.5h-1.2zM602.7 577.0h0.9v1.2h-0.9zM603.7 574.2h1.6v1.5h-1.6zM607.7 574.8h1.2v1.2h-1.2zM605.6 576.0h1.2v1.5h-1.2z" fill="#000"/><path d="M775.0 505.0 L774.0 521.0" stroke="#000" stroke-width="1" fill="none"/><path d="M769.0 552.5 L761.0 565.0" stroke="#000" stroke-width="1" fill="none"/><path d="M747.5 597.5 L741.0 613.0" stroke="#000" stroke-width="1" fill="none"/><path d="M739.6 644.8 L741.4 659.8" stroke="#000" stroke-width="1" fill="none"/><path d="M584.2 656.0 L592.4 668.5" stroke="#000" stroke-width="1" fill="none"/>
<circle cx="313.8" cy="195.5" r="2.9" fill="#D070C0"/>
<circle cx="595.5" cy="258.0" r="2.9" fill="#D070C0"/>
<circle cx="653.8" cy="267.5" r="2.9" fill="#D070C0"/>
<circle cx="664.5" cy="279.5" r="2.9" fill="#D070C0"/>
<circle cx="633.8" cy="300.0" r="2.9" fill="#D070C0"/>
<circle cx="755.8" cy="155.0" r="2.9" fill="#D070C0"/>
<circle cx="746.2" cy="187.5" r="2.9" fill="#D070C0"/>
<circle cx="731.2" cy="225.0" r="2.9" fill="#D070C0"/>
<circle cx="667.5" cy="320.0" r="2.9" fill="#D070C0"/>
<circle cx="627.5" cy="355.5" r="2.9" fill="#D070C0"/>
<circle cx="609.3" cy="305.7" r="2.9" fill="#D070C0"/>
<circle cx="567.7" cy="366.7" r="2.9" fill="#D070C0"/>
<circle cx="531.7" cy="299.0" r="2.9" fill="#D070C0"/>
<circle cx="474.3" cy="330.0" r="2.9" fill="#D070C0"/>
<circle cx="500.0" cy="339.3" r="2.9" fill="#D070C0"/>
<circle cx="680.5" cy="397.5" r="2.9" fill="#D070C0"/>
<circle cx="699.5" cy="392.5" r="2.9" fill="#D070C0"/>
<circle cx="737.5" cy="399.5" r="2.9" fill="#D070C0"/>
<circle cx="722.0" cy="417.5" r="2.9" fill="#D070C0"/>
<circle cx="641.2" cy="422.5" r="2.9" fill="#D070C0"/>
<circle cx="667.0" cy="451.2" r="2.9" fill="#D070C0"/>
<circle cx="627.5" cy="462.0" r="2.9" fill="#D070C0"/>
<circle cx="720.0" cy="487.0" r="2.9" fill="#D070C0"/>
<circle cx="754.5" cy="498.0" r="2.9" fill="#D070C0"/>
<circle cx="638.2" cy="543.2" r="2.9" fill="#D070C0"/>
<circle cx="563.8" cy="552.5" r="2.9" fill="#D070C0"/>
<circle cx="597.5" cy="594.5" r="2.9" fill="#D070C0"/>
<circle cx="503.6" cy="427.3" r="2.9" fill="#D070C0"/>
<circle cx="535.6" cy="444.4" r="2.9" fill="#D070C0"/>
<circle cx="540.3" cy="491.6" r="2.9" fill="#D070C0"/>
<circle cx="482.5" cy="517.5" r="2.9" fill="#D070C0"/>
<circle cx="323.2" cy="430.5" r="2.9" fill="#D070C0"/>
<text x="293.0" y="192.0" font-size="10.5" class="ct">乌鲁木齐</text>
<text x="572.5" y="256.0" font-size="10.3" class="ct">呼和浩特</text>
<text x="638.5" y="265.0" font-size="11.5" class="ct">北京</text>
<text x="647.5" y="293.5" font-size="10" class="ct">天津</text>
<text x="635.0" y="314.0" font-size="10" class="ct">石家庄</text>
<text x="761.0" y="167.0" font-size="10.3" class="ct">哈尔滨</text>
<text x="743.8" y="202.5" font-size="10" class="ct">长春</text>
<text x="725.0" y="241.0" font-size="10" class="ct">沈阳</text>
<text x="668.8" y="328.8" font-size="10" class="ct">济南</text>
<text x="630.0" y="368.8" font-size="10" class="ct">郑州</text>
<text x="595.0" y="302.5" font-size="10" class="ct">太原</text>
<text x="571.7" y="376.5" font-size="10" class="ct">西安</text>
<text x="501.7" y="310.0" font-size="10" class="ct">银川</text>
<text x="443.3" y="335.0" font-size="10" class="ct">西宁</text>
<text x="498.3" y="353.0" font-size="10" class="ct">兰州</text>
<text x="661.2" y="412.5" font-size="10" class="ct">合肥</text>
<text x="701.2" y="403.5" font-size="10" class="ct">南京</text>
<text x="743.8" y="406.0" font-size="10" class="ct">上海</text>
<text x="716.2" y="432.5" font-size="10" class="ct">杭州</text>
<text x="638.8" y="441.0" font-size="10" class="ct">武汉</text>
<text x="663.8" y="468.5" font-size="10" class="ct">南昌</text>
<text x="606.2" y="475.0" font-size="10" class="ct">长沙</text>
<text x="693.8" y="497.5" font-size="10.5" class="ct">福州</text>
<text x="745.0" y="496.0" font-size="10" class="ct">台北</text>
<text x="642.5" y="550.0" font-size="10" class="ct">广州</text>
<text x="568.8" y="558.5" font-size="10" class="ct">南宁</text>
<text x="601.2" y="596.0" font-size="10" class="ct">海口</text>
<text x="507.7" y="436.0" font-size="10" class="ct">成都</text>
<text x="538.2" y="449.2" font-size="10" class="ct">重庆</text>
<text x="516.8" y="501.0" font-size="10" class="ct">贵阳</text>
<text x="470.0" y="531.0" font-size="10" class="ct">昆明</text>
<text x="312.5" y="447.5" font-size="10" class="ct">拉萨</text>
</svg>
<div class="title">多年平均降水量图</div>
<div class="lgt">多年平均降水量（毫米）</div>
<div class="sw" style="top:486.4px;background:#C1834D"></div><div class="ll" style="top:485.0px">&lt;50</div>
<div class="sw" style="top:500.2px;background:#E29616"></div><div class="ll" style="top:498.8px">50 - 100</div>
<div class="sw" style="top:514.0px;background:#E2BE18"></div><div class="ll" style="top:512.6px">100 - 200</div>
<div class="sw" style="top:527.9px;background:#FFFF1E"></div><div class="ll" style="top:526.3px">200 - 400</div>
<div class="sw" style="top:541.7px;background:#E2E28A"></div><div class="ll" style="top:540.1px">400 - 600</div>
<div class="sw" style="top:555.5px;background:#A0E482"></div><div class="ll" style="top:553.9px">600 - 800</div>
<div class="sw" style="top:569.3px;background:#10E010"></div><div class="ll" style="top:567.7px">800 - 1000</div>
<div class="sw" style="top:583.1px;background:#18A018"></div><div class="ll" style="top:581.5px">1000 - 1200</div>
<div class="sw" style="top:597.0px;background:#188888"></div><div class="ll" style="top:595.2px">1200 - 1600</div>
<div class="sw" style="top:610.8px;background:#286488"></div><div class="ll" style="top:609.0px">1600 - 2000</div>
<div class="sw" style="top:624.6px;background:#1020C0"></div><div class="ll" style="top:622.8px">&gt;2000</div>
<div class="foot">中国水利水电科学研究院水资源所</div>
<div class="inset"></div>
<div class="inlab">南海诸岛</div>
</body></html>
